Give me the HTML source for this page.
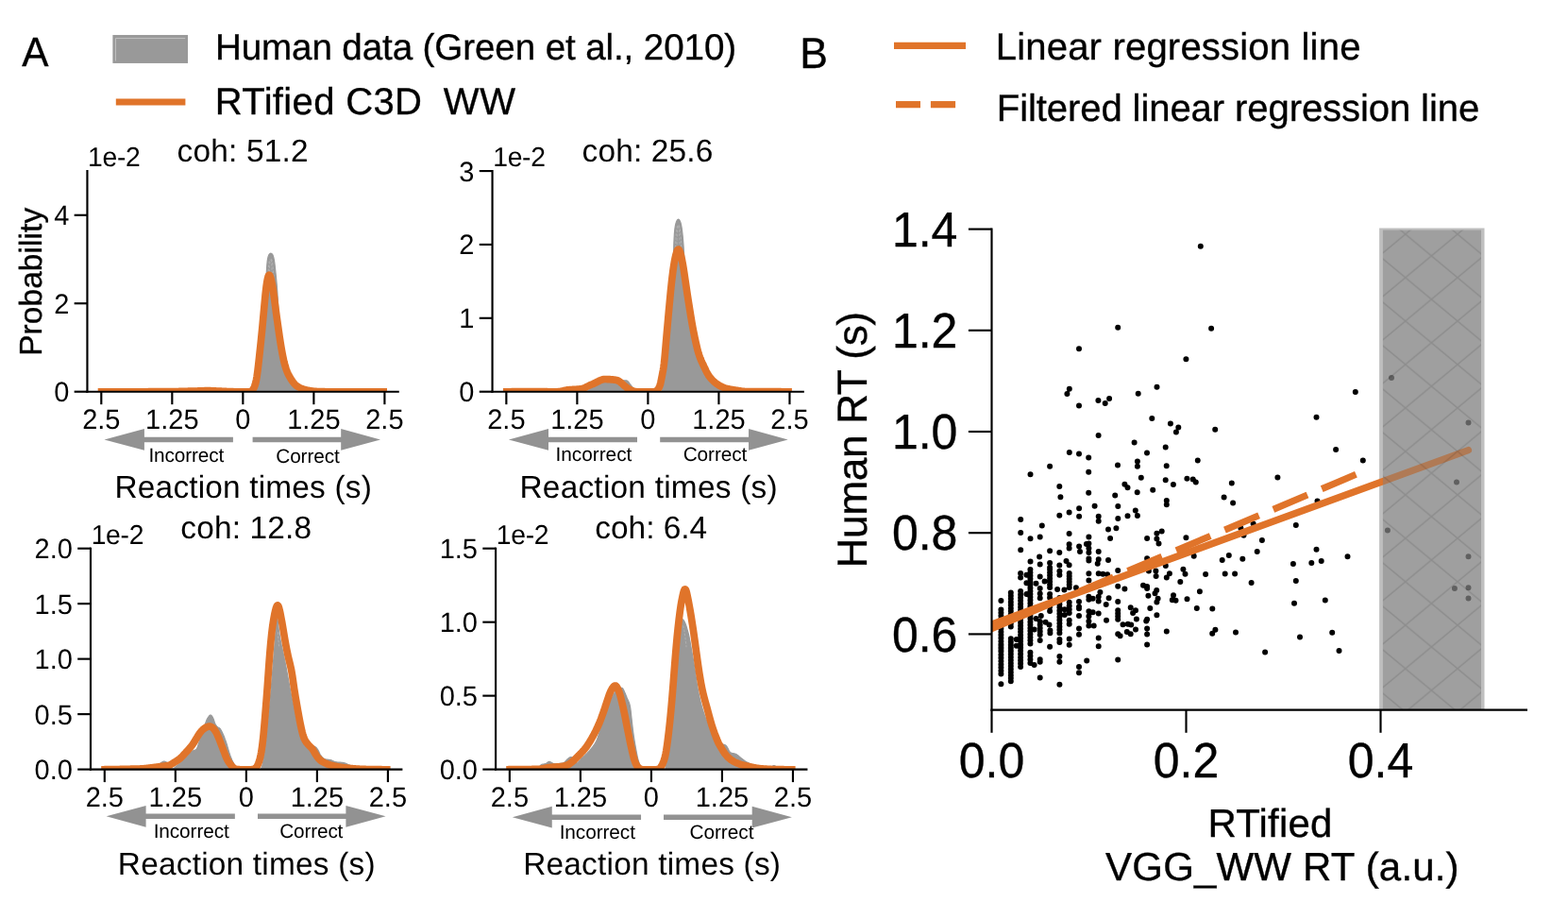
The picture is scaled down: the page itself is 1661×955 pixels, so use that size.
<!DOCTYPE html>
<html lang="en"><head><meta charset="utf-8"><title>Figure</title><style>html,body{margin:0;padding:0;background:#fff;overflow:hidden}svg{display:block}</style></head><body>
<svg width="1661" height="955" viewBox="0 0 1661 955" font-family='"Liberation Sans", Arial, Helvetica, sans-serif' fill="#000" stroke="#000" stroke-width="0.35" style="text-rendering:geometricPrecision">
<rect width="1661" height="955" fill="#fff" stroke="none"/>
<g stroke="none">
<rect x="119.4" y="37.05" width="79.6" height="29.9" fill="#999999"/>
<path d="M122.4,64.5 L122.4,40.6 L196.2,40.6" fill="none" stroke="#c6c6c6" stroke-width="0.9"/>
<line x1="122.80" y1="108.00" x2="196.40" y2="108.00" stroke="#E0742A" stroke-width="7.2" />
<line x1="947.00" y1="48.35" x2="1023.00" y2="48.35" stroke="#E0742A" stroke-width="7.1" />
<line x1="949.00" y1="110.65" x2="975.00" y2="110.65" stroke="#E0742A" stroke-width="7.2" />
<line x1="985.90" y1="110.65" x2="1012.10" y2="110.65" stroke="#E0742A" stroke-width="7.2" />
</g>
<text transform="translate(23.17,70.00) scale(1,1.03)" font-size="42.3" textLength="28.02" lengthAdjust="spacing">A</text>
<text transform="translate(847.35,72.00) scale(1,1.03)" font-size="44.5" textLength="30.50" lengthAdjust="spacing">B</text>
<text x="227.93" y="63.00" font-size="38.6" textLength="552.16" lengthAdjust="spacing">Human data (Green et al., 2010)</text>
<text x="227.82" y="121.00" font-size="40.0" textLength="219.10" lengthAdjust="spacing">RTified C3D</text>
<text x="469.82" y="121.00" font-size="40.0" textLength="76.31" lengthAdjust="spacing">WW</text>
<text x="1054.71" y="63.00" font-size="40.1" textLength="386.73" lengthAdjust="spacing">Linear regression line</text>
<text x="1055.81" y="128.00" font-size="40.1" textLength="511.37" lengthAdjust="spacing">Filtered linear regression line</text>
<g>
<g stroke="none">
<clipPath id="clip1"><rect x="92.45" y="161.05" width="330.35" height="253.65"/></clipPath>
<g clip-path="url(#clip1)">
<path d="M271.7,413.4 L272.2,411.5 L272.7,408.8 L273.2,405.7 L273.7,402.4 L274.2,398.7 L274.7,394.8 L275.2,390.7 L275.7,386.4 L276.2,382.0 L276.7,377.6 L277.2,373.1 L277.7,368.6 L278.2,364.2 L278.7,360.0 L279.2,354.9 L279.7,346.5 L280.2,332.4 L280.7,316.3 L281.2,305.2 L281.7,298.2 L282.2,290.0 L282.7,281.7 L283.2,276.3 L283.7,273.3 L284.2,271.4 L284.7,270.1 L285.2,269.3 L285.7,268.7 L286.2,268.4 L286.7,268.2 L287.2,268.3 L287.7,268.5 L288.2,268.9 L288.7,269.6 L289.2,270.6 L289.7,272.1 L290.2,274.3 L290.7,277.4 L291.2,281.4 L291.7,286.0 L292.2,290.9 L292.7,295.9 L293.2,301.3 L293.7,307.9 L294.2,315.9 L294.7,324.5 L295.2,332.7 L295.7,339.9 L296.2,346.3 L296.7,352.2 L297.2,357.7 L297.7,362.9 L298.2,367.7 L298.7,372.2 L299.2,376.3 L299.7,379.9 L300.2,382.9 L300.7,385.6 L301.2,387.9 L301.7,390.0 L302.2,392.0 L302.7,393.7 L303.2,395.3 L303.7,396.8 L304.2,398.2 L304.7,399.5 L305.2,400.7 L305.7,401.8 L306.2,402.8 L306.7,403.8 L307.2,404.7 L307.7,405.5 L308.2,406.3 L308.7,407.0 L309.2,407.6 L309.7,408.3 L310.2,408.9 L310.7,409.5 L311.2,410.1 L311.7,410.7 L312.2,411.2 L312.7,411.8 L313.2,412.3 L313.7,412.7 L314.2,413.1 L314.7,413.5 L315.2,413.8 L315.7,414.1 L316.2,414.3 L316.7,414.5 L317.2,414.6 L317.2,414.7 L271.7,414.7 Z" fill="#999999" stroke="#999999" stroke-width="1.2" stroke-linejoin="round"/>
<path d="M232.0,414.6 L232.5,414.4 L233.0,414.2 L233.5,414.0 L234.0,413.8 L234.5,413.6 L235.0,413.4 L235.5,413.3 L236.0,413.2 L236.5,413.1 L237.0,413.1 L237.5,413.0 L238.0,413.0 L238.5,413.0 L239.0,412.9 L239.5,412.9 L240.0,412.9 L240.5,413.0 L241.0,413.1 L241.5,413.3 L242.0,413.5 L242.5,413.7 L243.0,414.0 L243.5,414.3 L244.0,414.5 L244.0,414.7 L232.0,414.7 Z" fill="#999999" stroke="#999999" stroke-width="1.2" stroke-linejoin="round"/>
<path d="M285.2,296.5 L285.4,288.3 L285.5,282.9 L285.7,279.9 L285.9,277.9 L286.0,276.6 L286.2,275.8 L286.3,275.2" fill="none" stroke="#cccccc" stroke-width="0.45" stroke-dasharray="2.6,1.6"/>
<path d="M287.0,275.0 L287.1,275.5 L287.3,276.1 L287.5,277.1 L287.6,278.6 L287.8,280.8 L287.9,283.9 L288.1,287.9 L288.3,292.5 L288.4,297.4" fill="none" stroke="#cccccc" stroke-width="0.45" stroke-dasharray="2.6,1.6"/>
<path d="M283.9,295.6 L284.2,287.4 L284.5,282.0 L284.8,279.0 L285.1,277.0 L285.4,275.7 L285.7,274.9 L286.0,274.3" fill="none" stroke="#cccccc" stroke-width="0.45" stroke-dasharray="2.6,1.6"/>
<path d="M287.3,274.1 L287.6,274.6 L287.9,275.2 L288.2,276.2 L288.5,277.7 L288.8,279.9 L289.1,283.0 L289.4,287.0 L289.8,291.6 L290.1,296.5" fill="none" stroke="#cccccc" stroke-width="0.45" stroke-dasharray="2.6,1.6"/>
<path d="M103.7,414.9 L104.2,414.9 L104.7,414.9 L105.2,414.9 L105.7,414.9 L106.2,414.9 L106.7,414.9 L107.2,414.9 L107.7,414.9 L108.2,414.9 L108.7,414.9 L109.2,414.9 L109.7,414.9 L110.2,414.9 L110.7,414.9 L111.2,414.9 L111.7,414.9 L112.2,414.9 L112.7,414.9 L113.2,414.9 L113.7,414.9 L114.2,414.9 L114.7,414.9 L115.2,414.9 L115.7,414.9 L116.2,414.9 L116.7,414.9 L117.2,414.9 L117.7,414.9 L118.2,414.9 L118.7,414.9 L119.2,414.9 L119.7,414.9 L120.2,414.9 L120.7,414.9 L121.2,414.9 L121.7,414.9 L122.2,414.9 L122.7,414.9 L123.2,414.9 L123.7,414.9 L124.2,414.9 L124.7,414.9 L125.2,414.9 L125.7,414.9 L126.2,414.9 L126.7,414.9 L127.2,414.9 L127.7,414.9 L128.2,414.9 L128.7,414.9 L129.2,414.9 L129.7,414.9 L130.2,414.9 L130.7,414.9 L131.2,414.9 L131.7,414.9 L132.2,414.9 L132.7,414.9 L133.2,414.9 L133.7,414.9 L134.2,414.8 L134.7,414.8 L135.2,414.8 L135.7,414.8 L136.2,414.8 L136.7,414.8 L137.2,414.8 L137.7,414.8 L138.2,414.8 L138.7,414.8 L139.2,414.8 L139.7,414.8 L140.2,414.8 L140.7,414.8 L141.2,414.8 L141.7,414.8 L142.2,414.8 L142.7,414.8 L143.2,414.8 L143.7,414.8 L144.2,414.8 L144.7,414.8 L145.2,414.8 L145.7,414.8 L146.2,414.8 L146.7,414.8 L147.2,414.8 L147.7,414.8 L148.2,414.8 L148.7,414.8 L149.2,414.8 L149.7,414.8 L150.2,414.8 L150.7,414.8 L151.2,414.8 L151.7,414.8 L152.2,414.8 L152.7,414.8 L153.2,414.8 L153.7,414.8 L154.2,414.8 L154.7,414.8 L155.2,414.8 L155.7,414.8 L156.2,414.8 L156.7,414.8 L157.2,414.7 L157.7,414.7 L158.2,414.7 L158.7,414.7 L159.2,414.7 L159.7,414.7 L160.2,414.7 L160.7,414.7 L161.2,414.7 L161.7,414.7 L162.2,414.7 L162.7,414.7 L163.2,414.7 L163.7,414.7 L164.2,414.7 L164.7,414.7 L165.2,414.7 L165.7,414.7 L166.2,414.7 L166.7,414.7 L167.2,414.7 L167.7,414.7 L168.2,414.7 L168.7,414.7 L169.2,414.7 L169.7,414.7 L170.2,414.7 L170.7,414.7 L171.2,414.7 L171.7,414.7 L172.2,414.7 L172.7,414.7 L173.2,414.6 L173.7,414.6 L174.2,414.6 L174.7,414.6 L175.2,414.6 L175.7,414.6 L176.2,414.6 L176.7,414.6 L177.2,414.6 L177.7,414.6 L178.2,414.6 L178.7,414.6 L179.2,414.6 L179.7,414.6 L180.2,414.6 L180.7,414.6 L181.2,414.6 L181.7,414.6 L182.2,414.6 L182.7,414.6 L183.2,414.6 L183.7,414.6 L184.2,414.6 L184.7,414.5 L185.2,414.5 L185.7,414.5 L186.2,414.5 L186.7,414.5 L187.2,414.5 L187.7,414.5 L188.2,414.5 L188.7,414.5 L189.2,414.5 L189.7,414.5 L190.2,414.4 L190.7,414.4 L191.2,414.4 L191.7,414.4 L192.2,414.4 L192.7,414.4 L193.2,414.4 L193.7,414.4 L194.2,414.4 L194.7,414.3 L195.2,414.3 L195.7,414.3 L196.2,414.3 L196.7,414.3 L197.2,414.3 L197.7,414.3 L198.2,414.3 L198.7,414.3 L199.2,414.2 L199.7,414.2 L200.2,414.2 L200.7,414.2 L201.2,414.2 L201.7,414.2 L202.2,414.2 L202.7,414.2 L203.2,414.1 L203.7,414.1 L204.2,414.1 L204.7,414.1 L205.2,414.1 L205.7,414.1 L206.2,414.1 L206.7,414.1 L207.2,414.0 L207.7,414.0 L208.2,414.0 L208.7,414.0 L209.2,414.0 L209.7,414.0 L210.2,413.9 L210.7,413.9 L211.2,413.9 L211.7,413.9 L212.2,413.9 L212.7,413.9 L213.2,413.8 L213.7,413.8 L214.2,413.8 L214.7,413.8 L215.2,413.8 L215.7,413.8 L216.2,413.8 L216.7,413.7 L217.2,413.7 L217.7,413.7 L218.2,413.7 L218.7,413.7 L219.2,413.7 L219.7,413.7 L220.2,413.7 L220.7,413.7 L221.2,413.7 L221.7,413.7 L222.2,413.7 L222.7,413.7 L223.2,413.7 L223.7,413.8 L224.2,413.8 L224.7,413.8 L225.2,413.8 L225.7,413.8 L226.2,413.8 L226.7,413.9 L227.2,413.9 L227.7,413.9 L228.2,413.9 L228.7,414.0 L229.2,414.0 L229.7,414.0 L230.2,414.0 L230.7,414.1 L231.2,414.1 L231.7,414.1 L232.2,414.1 L232.7,414.2 L233.2,414.2 L233.7,414.2 L234.2,414.2 L234.7,414.2 L235.2,414.3 L235.7,414.3 L236.2,414.3 L236.7,414.3 L237.2,414.3 L237.7,414.4 L238.2,414.4 L238.7,414.4 L239.2,414.4 L239.7,414.5 L240.2,414.5 L240.7,414.5 L241.2,414.5 L241.7,414.5 L242.2,414.6 L242.7,414.6 L243.2,414.6 L243.7,414.6 L244.2,414.6 L244.7,414.7 L245.2,414.7 L245.7,414.7 L246.2,414.7 L246.7,414.7 L247.2,414.7 L247.7,414.8 L248.2,414.8 L248.7,414.8 L249.2,414.8 L249.7,414.8 L250.2,414.8 L250.7,414.8 L251.2,414.8 L251.7,414.8 L252.2,414.8 L252.7,414.8 L253.2,414.8 L253.7,414.8 L254.2,414.8 L254.7,414.8 L255.2,414.8 L255.7,414.8 L256.1,414.8 L256.6,414.8 L257.1,414.8 L257.6,414.8 L258.1,414.8 L258.6,414.8 L259.1,414.8 L259.6,414.9 L260.1,414.9 L260.6,414.9 L261.1,414.9 L261.6,414.9 L262.1,414.9 L262.6,414.9 L263.1,414.8 L263.6,414.8 L264.1,414.8 L264.6,414.7 L265.1,414.6 L265.6,414.4 L266.1,414.2 L266.6,413.8 L267.1,413.4 L267.6,412.9 L268.1,412.2 L268.6,411.4 L269.1,410.4 L269.6,409.3 L270.1,407.9 L270.6,406.2 L271.1,404.2 L271.6,401.7 L272.1,398.8 L272.6,395.3 L273.1,391.4 L273.6,387.1 L274.1,382.6 L274.6,378.1 L275.1,373.5 L275.6,368.8 L276.1,364.1 L276.6,359.3 L277.1,354.3 L277.6,349.3 L278.1,344.0 L278.6,338.7 L279.1,333.2 L279.6,327.8 L280.1,322.3 L280.6,317.0 L281.1,312.0 L281.6,307.4 L282.1,303.3 L282.6,299.7 L283.1,296.8 L283.6,294.5 L284.1,292.7 L284.6,291.6 L285.1,291.2 L285.6,291.4 L286.1,292.3 L286.6,293.8 L287.1,295.6 L287.6,297.8 L288.1,300.3 L288.6,302.9 L289.1,305.9 L289.6,309.1 L290.1,312.6 L290.6,316.4 L291.1,320.2 L291.6,324.1 L292.1,327.8 L292.6,331.5 L293.1,335.2 L293.6,338.8 L294.1,342.3 L294.6,345.9 L295.1,349.4 L295.6,352.9 L296.1,356.3 L296.6,359.6 L297.1,362.8 L297.6,365.9 L298.1,368.9 L298.6,371.7 L299.1,374.5 L299.6,377.0 L300.1,379.4 L300.6,381.7 L301.1,383.8 L301.6,385.7 L302.1,387.5 L302.6,389.1 L303.1,390.7 L303.6,392.1 L304.1,393.4 L304.6,394.6 L305.1,395.7 L305.6,396.7 L306.1,397.7 L306.6,398.6 L307.1,399.5 L307.6,400.3 L308.1,401.1 L308.6,401.9 L309.1,402.6 L309.6,403.4 L310.1,404.1 L310.6,404.8 L311.1,405.4 L311.6,406.0 L312.1,406.6 L312.6,407.1 L313.1,407.6 L313.6,408.1 L314.1,408.5 L314.6,408.8 L315.1,409.1 L315.6,409.5 L316.1,409.7 L316.6,410.0 L317.1,410.3 L317.6,410.5 L318.1,410.8 L318.6,411.0 L319.1,411.2 L319.6,411.4 L320.1,411.6 L320.6,411.8 L321.1,412.0 L321.6,412.2 L322.1,412.3 L322.6,412.5 L323.1,412.6 L323.6,412.7 L324.1,412.8 L324.6,413.0 L325.1,413.1 L325.6,413.2 L326.1,413.3 L326.6,413.4 L327.1,413.5 L327.6,413.6 L328.1,413.7 L328.6,413.7 L329.1,413.8 L329.6,413.9 L330.1,414.0 L330.6,414.1 L331.1,414.1 L331.6,414.2 L332.1,414.2 L332.6,414.3 L333.1,414.3 L333.6,414.4 L334.1,414.4 L334.6,414.4 L335.1,414.5 L335.6,414.5 L336.1,414.5 L336.6,414.5 L337.1,414.6 L337.6,414.6 L338.1,414.6 L338.6,414.6 L339.1,414.6 L339.6,414.6 L340.1,414.7 L340.6,414.7 L341.1,414.7 L341.6,414.7 L342.1,414.7 L342.6,414.7 L343.1,414.7 L343.6,414.7 L344.1,414.7 L344.6,414.8 L345.1,414.8 L345.6,414.8 L346.1,414.8 L346.6,414.8 L347.1,414.8 L347.6,414.8 L348.1,414.8 L348.6,414.8 L349.1,414.8 L349.6,414.8 L350.1,414.8 L350.6,414.8 L351.1,414.8 L351.6,414.8 L352.1,414.8 L352.6,414.8 L353.1,414.8 L353.6,414.8 L354.1,414.8 L354.6,414.8 L355.1,414.8 L355.6,414.8 L356.1,414.8 L356.6,414.9 L357.1,414.9 L357.6,414.9 L358.1,414.9 L358.6,414.9 L359.1,414.9 L359.6,414.9 L360.1,414.9 L360.6,414.9 L361.1,414.9 L361.6,414.9 L362.1,414.9 L362.6,414.9 L363.1,414.9 L363.6,414.9 L364.1,414.9 L364.6,414.9 L365.1,414.9 L365.6,414.9 L366.1,414.9 L366.6,414.9 L367.1,414.9 L367.6,414.9 L368.1,414.9 L368.6,414.9 L369.1,414.9 L369.6,414.9 L370.1,414.9 L370.6,414.9 L371.1,414.9 L371.6,414.9 L372.1,414.9 L372.6,414.9 L373.1,414.9 L373.6,414.9 L374.1,414.9 L374.6,414.9 L375.1,414.9 L375.6,414.9 L376.1,414.9 L376.6,414.9 L377.1,414.9 L377.6,414.9 L378.1,414.9 L378.6,414.9 L379.1,414.9 L379.6,414.9 L380.1,414.9 L380.6,414.9 L381.1,414.9 L381.6,414.9 L382.1,414.9 L382.6,414.9 L383.1,414.9 L383.6,414.9 L384.1,414.9 L384.6,414.9 L385.1,414.9 L385.6,414.9 L386.1,414.9 L386.6,414.9 L387.1,414.9 L387.6,414.9 L388.1,414.9 L388.6,414.9 L389.1,414.9 L389.6,414.9 L390.1,414.9 L390.6,414.9 L391.1,414.9 L391.6,414.9 L392.1,414.9 L392.6,414.9 L393.1,414.9 L393.6,414.9 L394.1,414.9 L394.6,414.9 L395.1,414.9 L395.6,414.9 L396.1,414.9 L396.6,414.9 L397.1,414.9 L397.6,414.9 L398.1,414.9 L398.6,414.9 L399.1,414.9 L399.6,414.9 L400.1,414.9 L400.6,414.9 L401.1,414.9 L401.6,414.9 L402.1,414.9 L402.6,414.9 L403.1,414.9 L403.6,414.9 L404.1,414.9 L404.6,414.9 L405.1,414.9 L405.6,414.9 L406.1,414.9 L406.6,414.9 L407.1,414.9 L407.6,414.9 L408.1,414.9 L408.6,414.9 L409.1,414.9 L409.6,414.9 L410.0,414.9" fill="none" stroke="#E0742A" stroke-width="7.7" stroke-linejoin="round" stroke-linecap="butt"/>
</g>
<line x1="92.45" y1="179.98" x2="92.45" y2="415.77" stroke="#000" stroke-width="2.15" />
<line x1="91.38" y1="414.70" x2="422.80" y2="414.70" stroke="#000" stroke-width="2.15" />
<line x1="107.30" y1="414.70" x2="107.30" y2="428.20" stroke="#000" stroke-width="2.15" />
<text transform="translate(107.30,454.00) scale(1,1.02)" font-size="29.0" text-anchor="middle" >2.5</text>
<line x1="182.33" y1="414.70" x2="182.33" y2="428.20" stroke="#000" stroke-width="2.15" />
<text transform="translate(182.33,454.00) scale(1,1.02)" font-size="29.0" text-anchor="middle" >1.25</text>
<line x1="257.35" y1="414.70" x2="257.35" y2="428.20" stroke="#000" stroke-width="2.15" />
<text transform="translate(257.35,454.00) scale(1,1.02)" font-size="29.0" text-anchor="middle" >0</text>
<line x1="332.38" y1="414.70" x2="332.38" y2="428.20" stroke="#000" stroke-width="2.15" />
<text transform="translate(332.38,454.00) scale(1,1.02)" font-size="29.0" text-anchor="middle" >1.25</text>
<line x1="407.40" y1="414.70" x2="407.40" y2="428.20" stroke="#000" stroke-width="2.15" />
<text transform="translate(407.40,454.00) scale(1,1.02)" font-size="29.0" text-anchor="middle" >2.5</text>
<line x1="78.65" y1="414.70" x2="92.45" y2="414.70" stroke="#000" stroke-width="2.15" />
<text transform="translate(73.35,425.00) scale(1,1.02)" font-size="29.0" text-anchor="end" >0</text>
<line x1="78.65" y1="321.24" x2="92.45" y2="321.24" stroke="#000" stroke-width="2.15" />
<text transform="translate(73.35,332.00) scale(1,1.02)" font-size="29.0" text-anchor="end" >2</text>
<line x1="78.65" y1="227.78" x2="92.45" y2="227.78" stroke="#000" stroke-width="2.15" />
<text transform="translate(73.35,238.00) scale(1,1.02)" font-size="29.0" text-anchor="end" >4</text>
<text transform="translate(93.09,176.00) scale(1,1.02)" font-size="28.3" textLength="55.78" lengthAdjust="spacing">1e-2</text>
<text x="187.58" y="171.00" font-size="33.4" textLength="139.00" lengthAdjust="spacing">coh: 51.2</text>
<path d="M246.90,462.70 L152.90,462.70 L152.90,454.10 L110.50,465.45 L152.90,476.80 L152.90,468.20 L246.90,468.20 Z" fill="#929292"/>
<path d="M267.60,462.70 L361.20,462.70 L361.20,454.10 L403.00,465.45 L361.20,476.80 L361.20,468.20 L267.60,468.20 Z" fill="#929292"/>
<text x="157.38" y="489.00" font-size="20.8" textLength="79.87" lengthAdjust="spacing">Incorrect</text>
<text x="292.24" y="490.00" font-size="20.8" textLength="67.51" lengthAdjust="spacing">Correct</text>
<text x="121.56" y="527.00" font-size="33.4" textLength="272.21" lengthAdjust="spacing">Reaction times (s)</text>
</g>
<g stroke="none">
<clipPath id="clip2"><rect x="521.55" y="161.05" width="330.30" height="253.65"/></clipPath>
<g clip-path="url(#clip2)">
<path d="M701.4,413.6 L701.9,411.5 L702.4,408.5 L702.9,405.1 L703.4,401.6 L703.9,398.1 L704.4,394.4 L704.9,390.7 L705.4,386.9 L705.9,383.0 L706.4,378.9 L706.9,374.7 L707.4,370.3 L707.9,365.8 L708.4,361.2 L708.9,356.4 L709.4,351.6 L709.9,346.7 L710.4,341.8 L710.9,337.0 L711.4,332.5 L711.9,326.9 L712.4,315.9 L712.9,296.5 L713.4,273.8 L713.9,256.6 L714.4,247.0 L714.9,242.0 L715.4,238.9 L715.9,236.7 L716.4,235.1 L716.9,233.9 L717.4,233.1 L717.9,232.5 L718.4,232.2 L718.9,232.3 L719.4,232.6 L719.9,233.3 L720.4,234.3 L720.9,235.5 L721.4,237.3 L721.9,239.8 L722.4,243.1 L722.9,247.2 L723.4,252.2 L723.9,258.3 L724.4,265.9 L724.9,275.1 L725.4,285.1 L725.9,294.0 L726.4,300.6 L726.9,305.6 L727.4,309.7 L727.9,313.5 L728.4,317.2 L728.9,320.7 L729.4,324.2 L729.9,327.4 L730.4,330.6 L730.9,333.7 L731.4,336.7 L731.9,339.7 L732.4,342.6 L732.9,345.5 L733.4,348.3 L733.9,351.0 L734.4,353.5 L734.9,356.0 L735.4,358.4 L735.9,360.8 L736.4,363.1 L736.9,365.4 L737.4,367.5 L737.9,369.6 L738.4,371.6 L738.9,373.5 L739.4,375.3 L739.9,376.9 L740.4,378.4 L740.9,379.9 L741.4,381.3 L741.9,382.6 L742.4,383.9 L742.9,385.2 L743.4,386.4 L743.9,387.6 L744.4,388.7 L744.9,389.7 L745.4,390.7 L745.9,391.7 L746.4,392.6 L746.9,393.5 L747.4,394.4 L747.9,395.2 L748.4,396.0 L748.9,396.8 L749.4,397.5 L749.9,398.2 L750.4,398.9 L750.9,399.6 L751.4,400.2 L751.9,400.9 L752.4,401.5 L752.9,402.1 L753.4,402.7 L753.9,403.2 L754.4,403.8 L754.9,404.3 L755.4,404.9 L755.9,405.4 L756.4,405.9 L756.9,406.4 L757.4,406.9 L757.9,407.4 L758.4,407.9 L758.9,408.4 L759.4,408.9 L759.9,409.4 L760.4,409.8 L760.9,410.3 L761.4,410.7 L761.9,411.2 L762.4,411.6 L762.9,412.0 L763.4,412.4 L763.9,412.8 L764.4,413.2 L764.9,413.5 L765.4,413.9 L765.9,414.2 L766.4,414.6 L766.9,414.7 L767.4,414.7 L767.4,414.7 L701.4,414.7 Z" fill="#999999" stroke="#999999" stroke-width="1.2" stroke-linejoin="round"/>
<path d="M621.8,414.4 L622.3,414.1 L622.8,413.7 L623.3,413.3 L623.8,412.8 L624.3,412.4 L624.8,412.0 L625.3,411.5 L625.8,411.1 L626.3,410.7 L626.8,410.3 L627.3,409.9 L627.8,409.5 L628.3,409.2 L628.8,408.8 L629.3,408.4 L629.8,408.1 L630.3,407.7 L630.8,407.4 L631.3,407.1 L631.8,406.7 L632.3,406.4 L632.8,406.1 L633.3,405.8 L633.8,405.5 L634.3,405.2 L634.8,404.9 L635.3,404.6 L635.8,404.4 L636.3,404.2 L636.8,403.9 L637.3,403.7 L637.8,403.5 L638.3,403.3 L638.8,403.1 L639.3,403.0 L639.8,402.9 L640.3,402.8 L640.8,402.8 L641.3,402.8 L641.8,402.8 L642.3,402.8 L642.8,402.9 L643.3,402.9 L643.8,402.9 L644.3,402.9 L644.8,402.9 L645.3,403.0 L645.8,403.0 L646.3,403.0 L646.8,403.0 L647.3,403.1 L647.8,403.1 L648.3,403.2 L648.8,403.2 L649.3,403.3 L649.8,403.4 L650.3,403.5 L650.8,403.7 L651.3,403.8 L651.8,403.9 L652.3,404.0 L652.8,404.1 L653.3,404.1 L653.8,404.1 L654.3,404.1 L654.8,404.0 L655.3,403.9 L655.8,403.8 L656.3,403.7 L656.8,403.6 L657.3,403.5 L657.8,403.4 L658.3,403.3 L658.8,403.2 L659.3,403.1 L659.8,403.0 L660.3,402.9 L660.8,402.9 L661.3,402.8 L661.8,402.8 L662.3,402.8 L662.8,402.8 L663.3,402.8 L663.8,402.9 L664.3,403.1 L664.8,403.5 L665.3,404.0 L665.8,404.5 L666.3,405.1 L666.8,405.8 L667.3,406.5 L667.8,407.2 L668.3,407.8 L668.8,408.4 L669.3,409.1 L669.8,409.7 L670.3,410.3 L670.8,411.0 L671.3,411.7 L671.8,412.3 L672.3,412.9 L672.8,413.3 L673.3,413.7 L673.8,414.0 L674.3,414.3 L674.8,414.5 L675.3,414.6 L675.3,414.7 L621.8,414.7 Z" fill="#999999" stroke="#999999" stroke-width="1.2" stroke-linejoin="round"/>
<path d="M717.0,263.1 L717.1,253.5 L717.3,248.5 L717.5,245.5 L717.6,243.3 L717.8,241.6 L717.9,240.5 L718.1,239.6" fill="none" stroke="#cccccc" stroke-width="0.45" stroke-dasharray="2.6,1.6"/>
<path d="M718.7,239.2 L718.9,239.9 L719.1,240.8 L719.2,242.1 L719.4,243.9 L719.5,246.4 L719.7,249.6 L719.9,253.7 L720.0,258.7" fill="none" stroke="#cccccc" stroke-width="0.45" stroke-dasharray="2.6,1.6"/>
<path d="M715.6,262.2 L715.9,252.6 L716.2,247.6 L716.6,244.6 L716.9,242.4 L717.2,240.7 L717.5,239.6 L717.8,238.7" fill="none" stroke="#cccccc" stroke-width="0.45" stroke-dasharray="2.6,1.6"/>
<path d="M719.0,238.3 L719.3,239.0 L719.7,239.9 L720.0,241.2 L720.3,243.0 L720.6,245.5 L720.9,248.7 L721.2,252.8 L721.5,257.8 L721.8,264.0" fill="none" stroke="#cccccc" stroke-width="0.45" stroke-dasharray="2.6,1.6"/>
<path d="M532.9,414.9 L533.4,414.9 L533.9,414.9 L534.4,414.9 L534.9,414.9 L535.4,414.9 L535.9,414.8 L536.4,414.8 L536.9,414.8 L537.4,414.8 L537.9,414.8 L538.4,414.8 L538.9,414.8 L539.4,414.8 L539.9,414.8 L540.4,414.8 L540.9,414.8 L541.4,414.8 L541.9,414.7 L542.4,414.7 L542.9,414.7 L543.4,414.7 L543.9,414.7 L544.4,414.7 L544.9,414.7 L545.4,414.7 L545.9,414.7 L546.4,414.7 L546.9,414.7 L547.4,414.7 L547.9,414.7 L548.4,414.7 L548.9,414.7 L549.4,414.7 L549.9,414.6 L550.4,414.6 L550.9,414.6 L551.4,414.6 L551.9,414.6 L552.4,414.6 L552.9,414.6 L553.4,414.6 L553.9,414.6 L554.4,414.6 L554.9,414.6 L555.4,414.6 L555.9,414.6 L556.4,414.6 L556.9,414.6 L557.4,414.6 L557.9,414.6 L558.4,414.6 L558.9,414.6 L559.4,414.6 L559.9,414.6 L560.4,414.6 L560.9,414.6 L561.4,414.6 L561.9,414.6 L562.4,414.6 L562.9,414.6 L563.4,414.6 L563.9,414.6 L564.4,414.6 L564.9,414.6 L565.4,414.6 L565.9,414.6 L566.4,414.6 L566.9,414.6 L567.4,414.6 L567.9,414.6 L568.4,414.6 L568.9,414.6 L569.4,414.6 L569.9,414.7 L570.4,414.7 L570.9,414.7 L571.4,414.7 L571.9,414.7 L572.4,414.7 L572.9,414.7 L573.4,414.7 L573.9,414.7 L574.4,414.7 L574.9,414.7 L575.4,414.7 L575.9,414.7 L576.4,414.7 L576.9,414.7 L577.4,414.7 L577.9,414.7 L578.4,414.7 L578.9,414.7 L579.4,414.7 L579.9,414.7 L580.4,414.8 L580.9,414.8 L581.4,414.8 L581.9,414.8 L582.4,414.8 L582.9,414.8 L583.4,414.8 L583.9,414.8 L584.4,414.8 L584.9,414.8 L585.4,414.8 L585.9,414.8 L586.4,414.8 L586.9,414.8 L587.4,414.8 L587.9,414.8 L588.4,414.8 L588.9,414.8 L589.4,414.8 L589.9,414.8 L590.4,414.8 L590.9,414.7 L591.4,414.7 L591.9,414.7 L592.4,414.6 L592.9,414.5 L593.4,414.5 L593.9,414.4 L594.4,414.3 L594.9,414.2 L595.4,414.1 L595.9,414.0 L596.4,413.9 L596.9,413.7 L597.4,413.6 L597.9,413.5 L598.4,413.4 L598.9,413.3 L599.4,413.2 L599.9,413.1 L600.4,413.0 L600.9,412.9 L601.4,412.9 L601.9,412.8 L602.4,412.8 L602.9,412.7 L603.4,412.7 L603.9,412.6 L604.4,412.6 L604.9,412.6 L605.4,412.5 L605.9,412.5 L606.4,412.5 L606.9,412.4 L607.4,412.4 L607.9,412.4 L608.4,412.4 L608.9,412.3 L609.4,412.3 L609.9,412.3 L610.4,412.3 L610.9,412.2 L611.4,412.2 L611.9,412.2 L612.4,412.1 L612.9,412.1 L613.4,412.0 L613.9,412.0 L614.4,411.9 L614.9,411.9 L615.4,411.8 L615.9,411.8 L616.4,411.7 L616.9,411.6 L617.4,411.4 L617.9,411.3 L618.4,411.1 L618.9,410.8 L619.4,410.6 L619.9,410.3 L620.4,410.1 L620.9,409.8 L621.4,409.5 L621.9,409.2 L622.4,409.0 L622.9,408.7 L623.4,408.5 L623.9,408.3 L624.4,408.0 L624.9,407.8 L625.4,407.6 L625.9,407.4 L626.4,407.2 L626.9,407.0 L627.4,406.8 L627.9,406.6 L628.4,406.4 L628.9,406.1 L629.4,405.9 L629.9,405.7 L630.4,405.4 L630.9,405.2 L631.4,404.9 L631.9,404.7 L632.4,404.4 L632.9,404.1 L633.4,403.9 L633.9,403.6 L634.4,403.4 L634.9,403.1 L635.4,402.9 L635.9,402.7 L636.4,402.5 L636.9,402.3 L637.4,402.2 L637.9,402.0 L638.4,401.8 L638.9,401.7 L639.4,401.6 L639.9,401.5 L640.4,401.5 L640.9,401.5 L641.4,401.5 L641.9,401.5 L642.4,401.5 L642.9,401.5 L643.4,401.6 L643.9,401.6 L644.4,401.6 L644.9,401.6 L645.4,401.7 L645.9,401.7 L646.4,401.7 L646.9,401.8 L647.4,401.8 L647.9,401.8 L648.4,401.9 L648.9,401.9 L649.4,402.0 L649.9,402.0 L650.4,402.1 L650.9,402.1 L651.4,402.2 L651.9,402.3 L652.4,402.4 L652.9,402.5 L653.4,402.6 L653.9,402.8 L654.4,402.9 L654.9,403.2 L655.4,403.4 L655.9,403.7 L656.4,404.0 L656.9,404.4 L657.4,404.8 L657.9,405.2 L658.4,405.7 L658.9,406.1 L659.4,406.6 L659.9,407.1 L660.4,407.5 L660.9,408.0 L661.4,408.4 L661.9,408.8 L662.4,409.2 L662.9,409.6 L663.4,410.0 L663.9,410.4 L664.4,410.8 L664.9,411.1 L665.4,411.4 L665.9,411.8 L666.4,412.0 L666.9,412.3 L667.4,412.6 L667.9,412.9 L668.4,413.1 L668.9,413.3 L669.4,413.6 L669.9,413.8 L670.4,413.9 L670.9,414.1 L671.4,414.2 L671.9,414.4 L672.4,414.5 L672.9,414.6 L673.4,414.6 L673.9,414.7 L674.4,414.8 L674.9,414.8 L675.4,414.9 L675.9,414.9 L676.4,414.9 L676.9,414.9 L677.4,414.9 L677.9,414.9 L678.4,414.9 L678.9,414.9 L679.4,414.9 L679.9,414.9 L680.4,414.9 L680.9,414.9 L681.4,414.9 L681.9,414.9 L682.4,414.9 L682.9,414.9 L683.4,414.9 L683.9,414.9 L684.4,414.9 L684.9,414.9 L685.4,414.9 L685.9,414.9 L686.4,414.9 L686.9,414.9 L687.4,414.9 L687.9,414.9 L688.4,414.9 L688.9,414.9 L689.4,414.9 L689.9,414.9 L690.4,414.9 L690.9,414.9 L691.4,414.9 L691.9,414.8 L692.4,414.8 L692.9,414.8 L693.4,414.7 L693.9,414.6 L694.4,414.4 L694.9,414.2 L695.4,413.9 L695.9,413.4 L696.4,412.9 L696.9,412.2 L697.4,411.6 L697.9,410.8 L698.4,409.9 L698.9,408.6 L699.4,407.0 L699.9,404.9 L700.4,402.5 L700.9,399.9 L701.4,397.4 L701.9,394.8 L702.4,392.1 L702.9,389.0 L703.4,385.2 L703.9,380.6 L704.4,375.3 L704.9,369.5 L705.4,363.6 L705.9,357.8 L706.4,352.1 L706.9,346.5 L707.4,341.0 L707.9,335.4 L708.4,329.9 L708.9,324.5 L709.4,319.1 L709.9,313.8 L710.4,308.7 L710.9,303.9 L711.4,299.2 L711.9,294.8 L712.4,290.7 L712.9,286.8 L713.4,283.3 L713.9,280.0 L714.4,277.1 L714.9,274.5 L715.4,272.1 L715.9,270.0 L716.4,268.2 L716.9,266.6 L717.4,265.3 L717.9,264.4 L718.4,264.0 L718.9,264.1 L719.4,264.6 L719.9,265.6 L720.4,267.0 L720.9,268.6 L721.4,270.5 L721.9,272.6 L722.4,274.9 L722.9,277.4 L723.4,280.2 L723.9,283.2 L724.4,286.3 L724.9,289.6 L725.4,293.0 L725.9,296.5 L726.4,299.9 L726.9,303.4 L727.4,306.7 L727.9,310.1 L728.4,313.3 L728.9,316.6 L729.4,319.8 L729.9,322.9 L730.4,326.1 L730.9,329.2 L731.4,332.3 L731.9,335.4 L732.4,338.4 L732.9,341.4 L733.4,344.2 L733.9,346.9 L734.4,349.6 L734.9,352.1 L735.4,354.6 L735.9,357.0 L736.4,359.4 L736.9,361.6 L737.4,363.9 L737.9,366.0 L738.4,368.1 L738.9,370.1 L739.4,372.0 L739.9,373.7 L740.4,375.4 L740.9,376.9 L741.4,378.3 L741.9,379.6 L742.4,380.8 L742.9,382.0 L743.4,383.1 L743.9,384.2 L744.4,385.2 L744.9,386.3 L745.4,387.3 L745.9,388.4 L746.4,389.4 L746.9,390.5 L747.4,391.5 L747.9,392.6 L748.4,393.6 L748.9,394.6 L749.4,395.5 L749.9,396.3 L750.4,397.1 L750.9,397.9 L751.4,398.6 L751.9,399.2 L752.4,399.9 L752.9,400.5 L753.4,401.0 L753.9,401.6 L754.4,402.1 L754.9,402.6 L755.4,403.1 L755.9,403.6 L756.4,404.1 L756.9,404.5 L757.4,404.9 L757.9,405.4 L758.4,405.7 L758.9,406.1 L759.4,406.5 L759.9,406.8 L760.4,407.1 L760.9,407.5 L761.4,407.8 L761.9,408.1 L762.4,408.4 L762.9,408.6 L763.4,408.9 L763.9,409.2 L764.4,409.4 L764.9,409.7 L765.4,409.9 L765.9,410.1 L766.4,410.3 L766.9,410.5 L767.4,410.7 L767.9,410.9 L768.4,411.0 L768.9,411.2 L769.4,411.3 L769.9,411.5 L770.4,411.6 L770.9,411.7 L771.4,411.8 L771.9,411.9 L772.4,412.0 L772.9,412.1 L773.4,412.2 L773.9,412.3 L774.4,412.4 L774.9,412.5 L775.4,412.6 L775.9,412.7 L776.4,412.7 L776.9,412.8 L777.4,412.9 L777.9,413.0 L778.4,413.1 L778.9,413.1 L779.4,413.2 L779.9,413.3 L780.4,413.4 L780.9,413.4 L781.4,413.5 L781.9,413.6 L782.4,413.7 L782.9,413.8 L783.4,413.8 L783.9,413.9 L784.4,414.0 L784.9,414.1 L785.4,414.2 L785.9,414.2 L786.4,414.3 L786.9,414.3 L787.4,414.4 L787.9,414.4 L788.4,414.5 L788.9,414.5 L789.4,414.5 L789.9,414.5 L790.4,414.5 L790.9,414.5 L791.4,414.6 L791.9,414.6 L792.4,414.6 L792.9,414.6 L793.4,414.6 L793.9,414.6 L794.4,414.6 L794.9,414.6 L795.4,414.6 L795.9,414.6 L796.4,414.6 L796.9,414.6 L797.4,414.6 L797.9,414.6 L798.4,414.6 L798.9,414.6 L799.4,414.6 L799.9,414.6 L800.4,414.6 L800.9,414.6 L801.4,414.6 L801.9,414.6 L802.4,414.6 L802.9,414.6 L803.4,414.6 L803.9,414.6 L804.4,414.6 L804.9,414.6 L805.4,414.6 L805.9,414.6 L806.4,414.6 L806.9,414.6 L807.4,414.6 L807.9,414.6 L808.4,414.6 L808.9,414.6 L809.4,414.6 L809.9,414.6 L810.4,414.6 L810.9,414.6 L811.4,414.6 L811.9,414.6 L812.4,414.6 L812.9,414.6 L813.4,414.6 L813.9,414.6 L814.4,414.6 L814.9,414.6 L815.4,414.6 L815.9,414.6 L816.4,414.6 L816.9,414.6 L817.4,414.6 L817.9,414.6 L818.4,414.7 L818.9,414.7 L819.4,414.7 L819.9,414.7 L820.4,414.7 L820.9,414.7 L821.4,414.7 L821.9,414.7 L822.4,414.7 L822.9,414.7 L823.4,414.7 L823.9,414.7 L824.4,414.7 L824.9,414.7 L825.4,414.7 L825.9,414.7 L826.4,414.7 L826.9,414.7 L827.4,414.7 L827.9,414.8 L828.4,414.8 L828.9,414.8 L829.4,414.8 L829.9,414.8 L830.4,414.8 L830.9,414.8 L831.4,414.8 L831.9,414.8 L832.4,414.8 L832.9,414.8 L833.4,414.8 L833.9,414.8 L834.4,414.8 L834.9,414.8 L835.4,414.8 L835.9,414.9 L836.4,414.9 L836.9,414.9 L837.4,414.9 L837.9,414.9 L838.4,414.9 L838.9,414.9" fill="none" stroke="#E0742A" stroke-width="7.7" stroke-linejoin="round" stroke-linecap="butt"/>
</g>
<line x1="521.55" y1="179.98" x2="521.55" y2="415.77" stroke="#000" stroke-width="2.15" />
<line x1="520.47" y1="414.70" x2="851.85" y2="414.70" stroke="#000" stroke-width="2.15" />
<line x1="536.35" y1="414.70" x2="536.35" y2="428.20" stroke="#000" stroke-width="2.15" />
<text transform="translate(536.35,454.00) scale(1,1.02)" font-size="29.0" text-anchor="middle" >2.5</text>
<line x1="611.38" y1="414.70" x2="611.38" y2="428.20" stroke="#000" stroke-width="2.15" />
<text transform="translate(611.38,454.00) scale(1,1.02)" font-size="29.0" text-anchor="middle" >1.25</text>
<line x1="686.40" y1="414.70" x2="686.40" y2="428.20" stroke="#000" stroke-width="2.15" />
<text transform="translate(686.40,454.00) scale(1,1.02)" font-size="29.0" text-anchor="middle" >0</text>
<line x1="761.42" y1="414.70" x2="761.42" y2="428.20" stroke="#000" stroke-width="2.15" />
<text transform="translate(761.42,454.00) scale(1,1.02)" font-size="29.0" text-anchor="middle" >1.25</text>
<line x1="836.45" y1="414.70" x2="836.45" y2="428.20" stroke="#000" stroke-width="2.15" />
<text transform="translate(836.45,454.00) scale(1,1.02)" font-size="29.0" text-anchor="middle" >2.5</text>
<line x1="507.75" y1="414.70" x2="521.55" y2="414.70" stroke="#000" stroke-width="2.15" />
<text transform="translate(502.45,425.00) scale(1,1.02)" font-size="29.0" text-anchor="end" >0</text>
<line x1="507.75" y1="336.82" x2="521.55" y2="336.82" stroke="#000" stroke-width="2.15" />
<text transform="translate(502.45,347.00) scale(1,1.02)" font-size="29.0" text-anchor="end" >1</text>
<line x1="507.75" y1="258.93" x2="521.55" y2="258.93" stroke="#000" stroke-width="2.15" />
<text transform="translate(502.45,269.00) scale(1,1.02)" font-size="29.0" text-anchor="end" >2</text>
<line x1="507.75" y1="181.05" x2="521.55" y2="181.05" stroke="#000" stroke-width="2.15" />
<text transform="translate(502.45,192.00) scale(1,1.02)" font-size="29.0" text-anchor="end" >3</text>
<text transform="translate(522.19,176.00) scale(1,1.02)" font-size="28.3" textLength="55.78" lengthAdjust="spacing">1e-2</text>
<text x="616.58" y="171.00" font-size="33.4" textLength="138.79" lengthAdjust="spacing">coh: 25.6</text>
<path d="M675.00,462.70 L581.00,462.70 L581.00,454.10 L538.90,465.45 L581.00,476.80 L581.00,468.20 L675.00,468.20 Z" fill="#929292"/>
<path d="M699.20,462.70 L793.05,462.70 L793.05,454.10 L834.70,465.45 L793.05,476.80 L793.05,468.20 L699.20,468.20 Z" fill="#929292"/>
<text x="588.48" y="488.00" font-size="20.8" textLength="80.87" lengthAdjust="spacing">Incorrect</text>
<text x="723.64" y="488.00" font-size="20.8" textLength="67.71" lengthAdjust="spacing">Correct</text>
<text x="550.46" y="527.00" font-size="33.4" textLength="273.11" lengthAdjust="spacing">Reaction times (s)</text>
</g>
<g stroke="none">
<clipPath id="clip3"><rect x="96.00" y="560.70" width="330.40" height="253.90"/></clipPath>
<g clip-path="url(#clip3)">
<path d="M275.9,814.4 L276.4,814.0 L276.9,813.1 L277.4,811.8 L277.9,810.0 L278.4,807.9 L278.9,805.5 L279.4,802.9 L279.9,800.0 L280.4,797.0 L280.9,793.7 L281.4,789.9 L281.9,785.4 L282.4,780.4 L282.9,775.1 L283.4,770.0 L283.9,764.9 L284.4,759.9 L284.9,754.8 L285.4,749.6 L285.9,744.3 L286.4,738.8 L286.9,733.1 L287.4,727.1 L287.9,721.0 L288.4,714.8 L288.9,708.5 L289.4,702.2 L289.9,696.0 L290.4,689.7 L290.9,683.4 L291.4,677.1 L291.9,670.8 L292.4,664.6 L292.9,659.0 L293.4,655.4 L293.9,655.2 L294.4,658.4 L294.9,663.2 L295.4,667.7 L295.9,671.3 L296.4,674.2 L296.9,676.8 L297.4,679.2 L297.9,681.6 L298.4,684.0 L298.9,686.3 L299.4,688.6 L299.9,690.9 L300.4,693.2 L300.9,695.5 L301.4,698.0 L301.9,700.4 L302.4,702.9 L302.9,705.5 L303.4,708.1 L303.9,710.8 L304.4,713.5 L304.9,716.3 L305.4,719.1 L305.9,721.9 L306.4,724.7 L306.9,727.5 L307.4,730.2 L307.9,732.8 L308.4,735.4 L308.9,737.9 L309.4,740.4 L309.9,742.9 L310.4,745.4 L310.9,747.8 L311.4,750.2 L311.9,752.6 L312.4,755.0 L312.9,757.4 L313.4,759.7 L313.9,762.0 L314.4,764.2 L314.9,766.4 L315.4,768.3 L315.9,770.2 L316.4,772.0 L316.9,773.8 L317.4,775.4 L317.9,777.0 L318.4,778.5 L318.9,779.8 L319.4,781.0 L319.9,782.0 L320.4,782.9 L320.9,783.7 L321.4,784.5 L321.9,785.3 L322.4,786.0 L322.9,786.7 L323.4,787.3 L323.9,787.8 L324.4,788.3 L324.9,788.7 L325.4,789.0 L325.9,789.2 L326.4,789.4 L326.9,789.5 L327.4,789.6 L327.9,789.6 L328.4,789.7 L328.9,789.8 L329.4,789.8 L329.9,789.8 L330.4,789.9 L330.9,789.9 L331.4,790.0 L331.9,790.1 L332.4,790.1 L332.9,790.3 L333.4,790.4 L333.9,790.7 L334.4,791.0 L334.9,791.5 L335.4,792.0 L335.9,792.6 L336.4,793.3 L336.9,794.1 L337.4,795.0 L337.9,796.1 L338.4,797.2 L338.9,798.2 L339.4,799.1 L339.9,799.9 L340.4,800.5 L340.9,801.1 L341.4,801.6 L341.9,802.1 L342.4,802.5 L342.9,802.9 L343.4,803.3 L343.9,803.5 L344.4,803.8 L344.9,803.9 L345.4,804.0 L345.9,804.1 L346.4,804.2 L346.9,804.2 L347.4,804.3 L347.9,804.3 L348.4,804.4 L348.9,804.4 L349.4,804.5 L349.9,804.6 L350.4,804.7 L350.9,804.8 L351.4,805.0 L351.9,805.2 L352.4,805.5 L352.9,805.7 L353.4,805.9 L353.9,806.2 L354.4,806.4 L354.9,806.5 L355.4,806.7 L355.9,806.8 L356.4,806.8 L356.9,806.9 L357.4,807.0 L357.9,807.0 L358.4,807.0 L358.9,807.1 L359.4,807.1 L359.9,807.1 L360.4,807.2 L360.9,807.2 L361.4,807.3 L361.9,807.3 L362.4,807.4 L362.9,807.4 L363.4,807.5 L363.9,807.6 L364.4,807.7 L364.9,807.8 L365.4,808.0 L365.9,808.1 L366.4,808.3 L366.9,808.5 L367.4,808.7 L367.9,809.0 L368.4,809.2 L368.9,809.5 L369.4,809.7 L369.9,809.9 L370.4,810.2 L370.9,810.4 L371.4,810.6 L371.9,810.8 L372.4,811.0 L372.9,811.1 L373.4,811.3 L373.9,811.4 L374.4,811.6 L374.9,811.8 L375.4,811.9 L375.9,812.1 L376.4,812.2 L376.9,812.3 L377.4,812.5 L377.9,812.6 L378.4,812.8 L378.9,812.9 L379.4,813.1 L379.9,813.2 L380.4,813.4 L380.9,813.5 L381.4,813.6 L381.9,813.8 L382.4,813.9 L382.9,814.1 L383.4,814.2 L383.9,814.4 L384.4,814.5 L384.9,814.6 L384.9,814.6 L275.9,814.6 Z" fill="#999999" stroke="#999999" stroke-width="1.2" stroke-linejoin="round"/>
<path d="M182.8,814.4 L183.3,814.1 L183.8,813.7 L184.3,813.3 L184.8,812.9 L185.3,812.5 L185.8,812.0 L186.3,811.6 L186.8,811.2 L187.3,810.8 L187.8,810.3 L188.3,809.9 L188.8,809.5 L189.3,809.0 L189.8,808.6 L190.3,808.1 L190.8,807.7 L191.3,807.3 L191.8,806.8 L192.3,806.4 L192.8,805.9 L193.3,805.5 L193.8,805.0 L194.3,804.5 L194.8,804.1 L195.3,803.5 L195.8,803.0 L196.3,802.4 L196.8,801.9 L197.3,801.3 L197.8,800.7 L198.3,800.1 L198.8,799.6 L199.3,799.1 L199.8,798.6 L200.3,798.1 L200.8,797.6 L201.3,797.2 L201.8,796.7 L202.3,796.3 L202.8,795.9 L203.3,795.5 L203.8,795.2 L204.3,794.9 L204.8,794.7 L205.3,794.5 L205.8,794.3 L206.3,794.2 L206.8,794.0 L207.3,793.8 L207.8,793.4 L208.3,792.8 L208.8,791.8 L209.3,790.7 L209.8,789.3 L210.3,787.8 L210.8,786.3 L211.3,784.8 L211.8,783.3 L212.3,781.9 L212.8,780.4 L213.3,778.9 L213.8,777.4 L214.3,775.8 L214.8,774.3 L215.3,772.8 L215.8,771.3 L216.3,769.8 L216.8,768.2 L217.3,766.7 L217.8,765.2 L218.3,763.9 L218.8,762.6 L219.3,761.5 L219.8,760.6 L220.3,759.8 L220.8,759.0 L221.3,758.3 L221.8,757.7 L222.3,757.3 L222.8,757.1 L223.3,757.1 L223.8,757.4 L224.3,757.9 L224.8,758.6 L225.3,759.5 L225.8,760.5 L226.3,761.8 L226.8,763.2 L227.3,764.7 L227.8,766.0 L228.3,767.0 L228.8,767.9 L229.3,768.5 L229.8,769.1 L230.3,769.5 L230.8,769.9 L231.3,770.2 L231.8,770.4 L232.3,770.7 L232.8,771.1 L233.3,771.7 L233.8,772.5 L234.3,773.4 L234.8,774.3 L235.3,775.3 L235.8,776.3 L236.3,777.4 L236.8,778.6 L237.3,779.8 L237.8,781.0 L238.3,782.4 L238.8,783.7 L239.3,785.2 L239.8,786.7 L240.3,788.2 L240.8,789.9 L241.3,791.6 L241.8,793.3 L242.3,795.0 L242.8,796.6 L243.3,798.1 L243.8,799.6 L244.3,801.0 L244.8,802.3 L245.3,803.6 L245.8,804.8 L246.3,805.8 L246.8,806.8 L247.3,807.8 L247.8,808.8 L248.3,809.8 L248.8,810.8 L249.3,811.9 L249.8,813.0 L250.3,813.8 L250.3,814.6 L182.8,814.6 Z" fill="#999999" stroke="#999999" stroke-width="1.2" stroke-linejoin="round"/>
<path d="M164.9,814.2 L165.4,813.6 L165.9,812.9 L166.4,812.1 L166.9,811.4 L167.4,810.7 L167.9,810.1 L168.4,809.5 L168.9,809.0 L169.4,808.5 L169.9,808.1 L170.4,807.7 L170.9,807.4 L171.4,807.1 L171.9,806.8 L172.4,806.5 L172.9,806.3 L173.4,806.2 L173.9,806.2 L174.4,806.2 L174.9,806.4 L175.4,806.6 L175.9,806.8 L176.4,807.1 L176.9,807.5 L177.4,807.8 L177.9,808.2 L178.4,808.6 L178.9,809.1 L179.4,809.6 L179.9,810.2 L180.4,810.8 L180.9,811.5 L181.4,812.3 L181.9,813.0 L182.4,813.7 L182.8,814.2 L182.8,814.6 L164.9,814.6 Z" fill="#999999" stroke="#999999" stroke-width="1.2" stroke-linejoin="round"/>
<path d="M294.4,669.2 L294.7,673.7 L294.9,677.3 L295.2,680.2 L295.4,682.8 L295.7,685.2" fill="none" stroke="#cccccc" stroke-width="0.45" stroke-dasharray="2.6,1.6"/>
<path d="M107.2,814.8 L107.7,814.8 L108.2,814.8 L108.7,814.8 L109.2,814.8 L109.7,814.8 L110.2,814.8 L110.7,814.7 L111.2,814.7 L111.7,814.7 L112.2,814.7 L112.7,814.7 L113.2,814.7 L113.7,814.7 L114.2,814.7 L114.7,814.7 L115.2,814.7 L115.7,814.7 L116.2,814.7 L116.7,814.7 L117.2,814.6 L117.7,814.6 L118.2,814.6 L118.7,814.6 L119.2,814.6 L119.7,814.6 L120.2,814.6 L120.7,814.6 L121.2,814.6 L121.7,814.6 L122.2,814.6 L122.7,814.5 L123.2,814.5 L123.7,814.5 L124.2,814.5 L124.7,814.5 L125.2,814.5 L125.7,814.5 L126.2,814.5 L126.7,814.5 L127.2,814.5 L127.7,814.4 L128.2,814.4 L128.7,814.4 L129.2,814.4 L129.7,814.4 L130.2,814.4 L130.7,814.4 L131.2,814.4 L131.7,814.4 L132.2,814.4 L132.7,814.3 L133.2,814.3 L133.7,814.3 L134.2,814.3 L134.7,814.3 L135.2,814.3 L135.7,814.3 L136.2,814.3 L136.7,814.3 L137.2,814.3 L137.7,814.3 L138.2,814.2 L138.7,814.2 L139.2,814.2 L139.7,814.2 L140.2,814.2 L140.7,814.2 L141.2,814.2 L141.7,814.2 L142.2,814.2 L142.7,814.1 L143.2,814.1 L143.7,814.1 L144.2,814.1 L144.7,814.1 L145.2,814.1 L145.7,814.1 L146.2,814.0 L146.7,814.0 L147.2,814.0 L147.7,814.0 L148.2,814.0 L148.7,814.0 L149.2,813.9 L149.7,813.9 L150.2,813.9 L150.7,813.9 L151.2,813.8 L151.7,813.8 L152.2,813.8 L152.7,813.7 L153.2,813.7 L153.7,813.6 L154.2,813.6 L154.7,813.5 L155.2,813.5 L155.7,813.4 L156.2,813.3 L156.7,813.3 L157.2,813.2 L157.7,813.2 L158.2,813.1 L158.7,813.1 L159.2,813.0 L159.7,812.9 L160.2,812.9 L160.7,812.8 L161.2,812.8 L161.7,812.7 L162.2,812.6 L162.7,812.6 L163.2,812.5 L163.7,812.4 L164.2,812.4 L164.7,812.3 L165.2,812.2 L165.7,812.2 L166.2,812.1 L166.7,812.0 L167.2,812.0 L167.7,811.9 L168.2,811.8 L168.7,811.8 L169.2,811.7 L169.7,811.6 L170.2,811.6 L170.7,811.5 L171.2,811.4 L171.7,811.4 L172.2,811.3 L172.7,811.3 L173.2,811.2 L173.7,811.2 L174.2,811.1 L174.7,811.1 L175.2,811.0 L175.7,810.9 L176.2,810.9 L176.7,810.8 L177.2,810.7 L177.7,810.6 L178.2,810.5 L178.7,810.4 L179.2,810.2 L179.7,810.1 L180.2,809.9 L180.7,809.6 L181.2,809.3 L181.7,809.0 L182.2,808.7 L182.7,808.4 L183.2,808.1 L183.7,807.7 L184.2,807.4 L184.7,807.1 L185.2,806.8 L185.7,806.5 L186.2,806.2 L186.7,805.9 L187.2,805.6 L187.7,805.2 L188.2,804.9 L188.7,804.6 L189.2,804.2 L189.7,803.8 L190.2,803.4 L190.7,803.0 L191.2,802.5 L191.7,802.1 L192.2,801.6 L192.7,801.1 L193.2,800.6 L193.7,800.1 L194.2,799.5 L194.7,799.0 L195.2,798.5 L195.7,797.9 L196.2,797.4 L196.7,796.9 L197.2,796.3 L197.7,795.8 L198.2,795.2 L198.7,794.7 L199.2,794.1 L199.7,793.5 L200.2,792.9 L200.7,792.4 L201.2,791.8 L201.7,791.2 L202.2,790.6 L202.7,790.0 L203.2,789.4 L203.7,788.7 L204.2,788.0 L204.7,787.3 L205.2,786.6 L205.7,785.8 L206.2,784.9 L206.7,784.1 L207.2,783.2 L207.7,782.4 L208.2,781.5 L208.7,780.7 L209.2,779.8 L209.7,779.0 L210.2,778.3 L210.7,777.5 L211.2,776.8 L211.7,776.1 L212.2,775.4 L212.7,774.8 L213.2,774.1 L213.7,773.6 L214.2,773.1 L214.7,772.6 L215.2,772.1 L215.7,771.7 L216.2,771.4 L216.7,771.0 L217.2,770.7 L217.7,770.4 L218.2,770.1 L218.7,769.9 L219.2,769.7 L219.7,769.5 L220.2,769.4 L220.7,769.2 L221.2,769.2 L221.7,769.1 L222.2,769.1 L222.7,769.1 L223.2,769.3 L223.7,769.5 L224.2,769.7 L224.7,770.1 L225.2,770.5 L225.7,771.0 L226.2,771.5 L226.7,772.1 L227.2,772.7 L227.7,773.4 L228.2,774.2 L228.7,775.0 L229.2,775.9 L229.7,776.9 L230.2,778.0 L230.7,779.1 L231.2,780.2 L231.7,781.4 L232.2,782.6 L232.7,783.9 L233.2,785.2 L233.7,786.5 L234.2,787.8 L234.7,789.1 L235.2,790.4 L235.7,791.7 L236.2,793.0 L236.7,794.3 L237.2,795.6 L237.7,796.9 L238.2,798.2 L238.7,799.5 L239.2,800.8 L239.7,802.0 L240.2,803.1 L240.7,804.2 L241.2,805.1 L241.7,805.9 L242.2,806.7 L242.7,807.4 L243.2,808.1 L243.7,808.8 L244.2,809.4 L244.7,810.0 L245.2,810.7 L245.7,811.2 L246.2,811.8 L246.7,812.3 L247.2,812.7 L247.7,813.1 L248.2,813.5 L248.7,813.8 L249.2,814.0 L249.7,814.2 L250.2,814.4 L250.7,814.5 L251.2,814.5 L251.7,814.6 L252.2,814.6 L252.7,814.7 L253.2,814.7 L253.7,814.7 L254.2,814.8 L254.7,814.8 L255.2,814.8 L255.7,814.8 L256.2,814.8 L256.7,814.8 L257.2,814.8 L257.7,814.8 L258.2,814.8 L258.7,814.8 L259.2,814.8 L259.7,814.8 L260.2,814.8 L260.7,814.8 L261.2,814.8 L261.7,814.8 L262.2,814.8 L262.7,814.8 L263.2,814.8 L263.7,814.8 L264.2,814.8 L264.7,814.8 L265.2,814.8 L265.7,814.8 L266.2,814.8 L266.7,814.7 L267.2,814.7 L267.7,814.6 L268.2,814.5 L268.7,814.3 L269.2,814.2 L269.7,814.0 L270.2,813.7 L270.7,813.3 L271.2,812.8 L271.7,812.2 L272.2,811.5 L272.7,810.6 L273.2,809.5 L273.7,808.4 L274.2,807.0 L274.7,805.5 L275.2,803.7 L275.7,801.7 L276.2,799.3 L276.7,796.6 L277.2,793.5 L277.7,790.1 L278.2,786.1 L278.7,781.6 L279.2,776.6 L279.7,771.1 L280.2,765.3 L280.7,759.3 L281.2,753.2 L281.7,747.1 L282.2,740.8 L282.7,734.3 L283.2,727.5 L283.7,720.5 L284.2,713.4 L284.7,706.3 L285.2,699.5 L285.7,693.0 L286.2,687.0 L286.7,681.4 L287.2,676.3 L287.7,671.5 L288.2,667.2 L288.7,663.3 L289.2,659.7 L289.7,656.6 L290.2,653.7 L290.7,651.1 L291.2,648.6 L291.7,646.4 L292.2,644.5 L292.7,642.9 L293.2,641.7 L293.7,641.0 L294.2,640.9 L294.7,641.4 L295.2,642.5 L295.7,644.1 L296.2,646.1 L296.7,648.4 L297.2,650.8 L297.7,653.4 L298.2,656.1 L298.7,658.8 L299.2,661.7 L299.7,664.6 L300.2,667.7 L300.7,670.7 L301.2,673.7 L301.7,676.7 L302.2,679.5 L302.7,682.2 L303.2,684.9 L303.7,687.5 L304.2,690.0 L304.7,692.4 L305.2,694.7 L305.7,696.9 L306.2,699.0 L306.7,701.0 L307.2,703.0 L307.7,705.1 L308.2,707.3 L308.7,709.8 L309.2,712.6 L309.7,715.7 L310.2,719.1 L310.7,722.6 L311.2,726.1 L311.7,729.5 L312.2,732.7 L312.7,735.8 L313.2,738.8 L313.7,741.7 L314.2,744.6 L314.7,747.4 L315.2,750.3 L315.7,753.1 L316.2,755.9 L316.7,758.6 L317.2,761.4 L317.7,764.0 L318.2,766.5 L318.7,768.9 L319.2,771.2 L319.7,773.3 L320.2,775.4 L320.7,777.3 L321.2,779.0 L321.7,780.5 L322.2,781.8 L322.7,782.9 L323.2,783.9 L323.7,784.7 L324.2,785.5 L324.7,786.2 L325.2,786.8 L325.7,787.4 L326.2,788.0 L326.7,788.6 L327.2,789.1 L327.7,789.6 L328.2,790.1 L328.7,790.6 L329.2,791.1 L329.7,791.6 L330.2,792.1 L330.7,792.7 L331.2,793.4 L331.7,794.2 L332.2,795.0 L332.7,795.9 L333.2,796.8 L333.7,797.6 L334.2,798.4 L334.7,799.2 L335.2,800.0 L335.7,800.7 L336.2,801.4 L336.7,802.1 L337.2,802.7 L337.7,803.3 L338.2,803.8 L338.7,804.3 L339.2,804.8 L339.7,805.2 L340.2,805.5 L340.7,805.9 L341.2,806.2 L341.7,806.5 L342.2,806.8 L342.7,807.0 L343.2,807.3 L343.7,807.5 L344.2,807.8 L344.7,808.0 L345.2,808.2 L345.7,808.4 L346.2,808.7 L346.7,808.9 L347.2,809.0 L347.7,809.2 L348.2,809.4 L348.7,809.6 L349.2,809.7 L349.7,809.9 L350.2,810.0 L350.7,810.2 L351.2,810.3 L351.7,810.5 L352.2,810.6 L352.7,810.7 L353.2,810.8 L353.7,811.0 L354.2,811.1 L354.7,811.2 L355.2,811.3 L355.7,811.4 L356.2,811.5 L356.7,811.6 L357.2,811.7 L357.7,811.8 L358.2,811.9 L358.7,812.0 L359.2,812.1 L359.7,812.2 L360.2,812.2 L360.7,812.3 L361.2,812.4 L361.7,812.5 L362.2,812.5 L362.7,812.6 L363.2,812.7 L363.7,812.7 L364.2,812.8 L364.7,812.9 L365.2,812.9 L365.7,813.0 L366.2,813.0 L366.7,813.1 L367.2,813.1 L367.7,813.2 L368.2,813.2 L368.7,813.3 L369.2,813.3 L369.7,813.4 L370.2,813.4 L370.7,813.5 L371.2,813.5 L371.7,813.6 L372.2,813.6 L372.7,813.7 L373.2,813.7 L373.7,813.7 L374.2,813.8 L374.7,813.8 L375.2,813.9 L375.7,813.9 L376.2,813.9 L376.7,814.0 L377.2,814.0 L377.7,814.1 L378.2,814.1 L378.7,814.1 L379.2,814.1 L379.7,814.2 L380.2,814.2 L380.7,814.2 L381.2,814.3 L381.7,814.3 L382.2,814.3 L382.7,814.3 L383.2,814.3 L383.7,814.4 L384.2,814.4 L384.7,814.4 L385.2,814.4 L385.7,814.4 L386.2,814.4 L386.7,814.4 L387.2,814.5 L387.7,814.5 L388.2,814.5 L388.7,814.5 L389.2,814.5 L389.7,814.5 L390.2,814.5 L390.7,814.5 L391.2,814.5 L391.7,814.6 L392.2,814.6 L392.7,814.6 L393.2,814.6 L393.7,814.6 L394.2,814.6 L394.7,814.6 L395.2,814.6 L395.7,814.6 L396.2,814.6 L396.7,814.6 L397.2,814.7 L397.7,814.7 L398.2,814.7 L398.7,814.7 L399.2,814.7 L399.7,814.7 L400.2,814.7 L400.7,814.7 L401.2,814.7 L401.7,814.7 L402.2,814.7 L402.7,814.7 L403.2,814.7 L403.7,814.7 L404.2,814.7 L404.7,814.8 L405.2,814.8 L405.7,814.8 L406.2,814.8 L406.7,814.8 L407.2,814.8 L407.7,814.8 L408.2,814.8 L408.7,814.8 L409.2,814.8 L409.7,814.8 L410.2,814.8 L410.7,814.8 L411.2,814.8 L411.7,814.8 L412.2,814.8 L412.7,814.8 L413.2,814.8 L413.6,814.8" fill="none" stroke="#E0742A" stroke-width="7.7" stroke-linejoin="round" stroke-linecap="butt"/>
</g>
<line x1="96.00" y1="579.62" x2="96.00" y2="815.68" stroke="#000" stroke-width="2.15" />
<line x1="94.92" y1="814.60" x2="426.40" y2="814.60" stroke="#000" stroke-width="2.15" />
<line x1="110.80" y1="814.60" x2="110.80" y2="828.10" stroke="#000" stroke-width="2.15" />
<text transform="translate(110.80,854.00) scale(1,1.02)" font-size="29.0" text-anchor="middle" >2.5</text>
<line x1="185.83" y1="814.60" x2="185.83" y2="828.10" stroke="#000" stroke-width="2.15" />
<text transform="translate(185.83,854.00) scale(1,1.02)" font-size="29.0" text-anchor="middle" >1.25</text>
<line x1="260.85" y1="814.60" x2="260.85" y2="828.10" stroke="#000" stroke-width="2.15" />
<text transform="translate(260.85,854.00) scale(1,1.02)" font-size="29.0" text-anchor="middle" >0</text>
<line x1="335.88" y1="814.60" x2="335.88" y2="828.10" stroke="#000" stroke-width="2.15" />
<text transform="translate(335.88,854.00) scale(1,1.02)" font-size="29.0" text-anchor="middle" >1.25</text>
<line x1="410.90" y1="814.60" x2="410.90" y2="828.10" stroke="#000" stroke-width="2.15" />
<text transform="translate(410.90,854.00) scale(1,1.02)" font-size="29.0" text-anchor="middle" >2.5</text>
<line x1="82.20" y1="814.60" x2="96.00" y2="814.60" stroke="#000" stroke-width="2.15" />
<text transform="translate(76.90,825.00) scale(1,1.02)" font-size="29.0" text-anchor="end" >0.0</text>
<line x1="82.20" y1="756.12" x2="96.00" y2="756.12" stroke="#000" stroke-width="2.15" />
<text transform="translate(76.90,767.00) scale(1,1.02)" font-size="29.0" text-anchor="end" >0.5</text>
<line x1="82.20" y1="697.65" x2="96.00" y2="697.65" stroke="#000" stroke-width="2.15" />
<text transform="translate(76.90,708.00) scale(1,1.02)" font-size="29.0" text-anchor="end" >1.0</text>
<line x1="82.20" y1="639.18" x2="96.00" y2="639.18" stroke="#000" stroke-width="2.15" />
<text transform="translate(76.90,650.00) scale(1,1.02)" font-size="29.0" text-anchor="end" >1.5</text>
<line x1="82.20" y1="580.70" x2="96.00" y2="580.70" stroke="#000" stroke-width="2.15" />
<text transform="translate(76.90,591.00) scale(1,1.02)" font-size="29.0" text-anchor="end" >2.0</text>
<text transform="translate(96.64,576.00) scale(1,1.02)" font-size="28.3" textLength="55.78" lengthAdjust="spacing">1e-2</text>
<text x="191.28" y="570.00" font-size="33.4" textLength="138.77" lengthAdjust="spacing">coh: 12.8</text>
<path d="M248.85,861.60 L154.60,861.60 L154.60,853.00 L112.60,864.35 L154.60,875.70 L154.60,867.10 L248.85,867.10 Z" fill="#929292"/>
<path d="M273.00,861.60 L366.40,861.60 L366.40,853.00 L408.60,864.35 L366.40,875.70 L366.40,867.10 L273.00,867.10 Z" fill="#929292"/>
<text x="162.68" y="887.00" font-size="20.8" textLength="80.07" lengthAdjust="spacing">Incorrect</text>
<text x="296.24" y="887.00" font-size="20.8" textLength="67.16" lengthAdjust="spacing">Correct</text>
<text x="124.86" y="926.00" font-size="33.4" textLength="272.71" lengthAdjust="spacing">Reaction times (s)</text>
</g>
<g stroke="none">
<clipPath id="clip4"><rect x="525.10" y="560.70" width="330.35" height="253.90"/></clipPath>
<g clip-path="url(#clip4)">
<path d="M705.0,813.0 L705.5,810.8 L706.0,807.7 L706.5,804.2 L707.0,800.6 L707.5,796.9 L708.0,793.1 L708.5,789.3 L709.0,785.4 L709.5,781.5 L710.0,777.4 L710.5,773.2 L711.0,768.5 L711.5,763.5 L712.0,757.8 L712.5,751.7 L713.0,745.3 L713.5,739.0 L714.0,732.7 L714.5,726.5 L715.0,720.3 L715.5,714.0 L716.0,707.8 L716.5,701.6 L717.0,695.5 L717.5,689.5 L718.0,683.7 L718.5,678.1 L719.0,672.9 L719.5,668.3 L720.0,664.3 L720.5,661.1 L721.0,658.8 L721.5,657.3 L722.0,656.3 L722.5,655.8 L723.0,655.7 L723.5,656.0 L724.0,656.5 L724.5,657.2 L725.0,658.1 L725.5,659.0 L726.0,660.2 L726.5,661.5 L727.0,663.0 L727.5,664.7 L728.0,666.4 L728.5,668.2 L729.0,670.0 L729.5,672.0 L730.0,674.2 L730.5,676.6 L731.0,679.2 L731.5,682.0 L732.0,684.9 L732.5,687.8 L733.0,690.7 L733.5,693.5 L734.0,696.3 L734.5,699.1 L735.0,702.0 L735.5,705.0 L736.0,708.2 L736.5,711.5 L737.0,715.0 L737.5,718.5 L738.0,722.0 L738.5,725.3 L739.0,728.3 L739.5,731.0 L740.0,733.6 L740.5,736.0 L741.0,738.3 L741.5,740.5 L742.0,742.6 L742.5,744.6 L743.0,746.5 L743.5,748.3 L744.0,750.0 L744.5,751.6 L745.0,753.2 L745.5,754.7 L746.0,756.2 L746.5,757.7 L747.0,759.1 L747.5,760.4 L748.0,761.6 L748.5,762.6 L749.0,763.5 L749.5,764.3 L750.0,764.9 L750.5,765.4 L751.0,765.7 L751.5,766.0 L752.0,766.3 L752.5,766.5 L753.0,766.7 L753.5,766.9 L754.0,767.1 L754.5,767.4 L755.0,767.7 L755.5,768.0 L756.0,768.6 L756.5,769.4 L757.0,770.6 L757.5,772.4 L758.0,774.4 L758.5,776.6 L759.0,778.6 L759.5,780.4 L760.0,781.7 L760.5,782.8 L761.0,783.6 L761.5,784.4 L762.0,785.1 L762.5,785.7 L763.0,786.3 L763.5,786.7 L764.0,787.1 L764.5,787.5 L765.0,787.8 L765.5,788.0 L766.0,788.1 L766.5,788.3 L767.0,788.4 L767.5,788.5 L768.0,788.7 L768.5,788.9 L769.0,789.3 L769.5,789.8 L770.0,790.5 L770.5,791.3 L771.0,792.2 L771.5,793.2 L772.0,794.2 L772.5,795.0 L773.0,795.8 L773.5,796.4 L774.0,796.8 L774.5,797.0 L775.0,797.2 L775.5,797.4 L776.0,797.5 L776.5,797.6 L777.0,797.7 L777.5,797.8 L778.0,797.9 L778.5,798.0 L779.0,798.2 L779.5,798.4 L780.0,798.6 L780.5,798.9 L781.0,799.3 L781.5,799.6 L782.0,800.0 L782.5,800.5 L783.0,800.9 L783.5,801.3 L784.0,801.7 L784.5,802.1 L785.0,802.5 L785.5,802.9 L786.0,803.3 L786.5,803.7 L787.0,804.1 L787.5,804.4 L788.0,804.8 L788.5,805.2 L789.0,805.5 L789.5,805.9 L790.0,806.2 L790.5,806.5 L791.0,806.8 L791.5,807.0 L792.0,807.3 L792.5,807.6 L793.0,807.8 L793.5,808.1 L794.0,808.3 L794.5,808.5 L795.0,808.8 L795.5,809.0 L796.0,809.2 L796.5,809.4 L797.0,809.6 L797.5,809.8 L798.0,809.9 L798.5,810.1 L799.0,810.3 L799.5,810.5 L800.0,810.6 L800.5,810.8 L801.0,810.9 L801.5,811.0 L802.0,811.1 L802.5,811.2 L803.0,811.3 L803.5,811.4 L804.0,811.5 L804.5,811.6 L805.0,811.6 L805.5,811.7 L806.0,811.8 L806.5,811.8 L807.0,811.9 L807.5,812.0 L808.0,812.0 L808.5,812.1 L809.0,812.1 L809.5,812.2 L810.0,812.2 L810.5,812.3 L811.0,812.3 L811.5,812.4 L812.0,812.4 L812.5,812.4 L813.0,812.5 L813.5,812.5 L814.0,812.5 L814.5,812.5 L815.0,812.5 L815.5,812.4 L816.0,812.2 L816.5,812.0 L817.0,811.8 L817.5,811.5 L818.0,811.2 L818.5,811.0 L819.0,810.8 L819.5,810.6 L820.0,810.6 L820.5,810.7 L821.0,810.9 L821.5,811.3 L822.0,811.8 L822.5,812.4 L823.0,813.1 L823.5,813.7 L824.0,814.2 L824.0,814.6 L705.0,814.6 Z" fill="#999999" stroke="#999999" stroke-width="1.2" stroke-linejoin="round"/>
<path d="M602.7,814.4 L603.2,814.2 L603.7,814.0 L604.2,813.7 L604.7,813.3 L605.2,813.0 L605.7,812.7 L606.2,812.3 L606.7,812.0 L607.2,811.6 L607.7,811.2 L608.2,810.8 L608.7,810.4 L609.2,810.0 L609.7,809.6 L610.2,809.1 L610.7,808.7 L611.2,808.2 L611.7,807.7 L612.2,807.2 L612.7,806.7 L613.2,806.1 L613.7,805.6 L614.2,805.1 L614.7,804.6 L615.2,804.0 L615.7,803.5 L616.2,803.0 L616.7,802.5 L617.2,802.1 L617.7,801.6 L618.2,801.1 L618.7,800.6 L619.2,800.2 L619.7,799.7 L620.2,799.2 L620.7,798.7 L621.2,798.2 L621.7,797.8 L622.2,797.3 L622.7,796.7 L623.2,796.2 L623.7,795.7 L624.2,795.1 L624.7,794.6 L625.2,794.0 L625.7,793.4 L626.2,792.8 L626.7,792.2 L627.2,791.6 L627.7,791.0 L628.2,790.3 L628.7,789.6 L629.2,788.9 L629.7,788.2 L630.2,787.4 L630.7,786.5 L631.2,785.6 L631.7,784.6 L632.2,783.5 L632.7,782.3 L633.2,781.0 L633.7,779.5 L634.2,778.0 L634.7,776.4 L635.2,774.8 L635.7,773.1 L636.2,771.4 L636.7,769.8 L637.2,768.1 L637.7,766.6 L638.2,765.0 L638.7,763.5 L639.2,761.9 L639.7,760.4 L640.2,758.8 L640.7,757.2 L641.2,755.7 L641.7,754.2 L642.2,752.8 L642.7,751.4 L643.2,750.0 L643.7,748.7 L644.2,747.5 L644.7,746.2 L645.2,745.0 L645.7,743.9 L646.2,742.7 L646.7,741.6 L647.2,740.6 L647.7,739.6 L648.2,738.6 L648.7,737.7 L649.2,736.7 L649.7,735.8 L650.2,734.9 L650.7,734.0 L651.2,733.2 L651.7,732.4 L652.2,731.7 L652.7,731.1 L653.2,730.6 L653.7,730.2 L654.2,729.9 L654.7,729.6 L655.2,729.3 L655.7,729.1 L656.2,728.8 L656.7,728.6 L657.2,728.5 L657.7,728.3 L658.2,728.3 L658.7,728.3 L659.2,728.5 L659.7,728.9 L660.2,729.7 L660.7,730.7 L661.2,731.8 L661.7,732.9 L662.2,734.0 L662.7,735.2 L663.2,736.4 L663.7,737.6 L664.2,738.9 L664.7,740.1 L665.2,741.2 L665.7,742.3 L666.2,743.4 L666.7,744.8 L667.2,746.6 L667.7,749.4 L668.2,753.2 L668.7,757.7 L669.2,762.3 L669.7,766.8 L670.2,771.1 L670.7,775.0 L671.2,778.6 L671.7,781.9 L672.2,784.9 L672.7,787.8 L673.2,790.6 L673.7,793.3 L674.2,796.1 L674.7,798.7 L675.2,801.1 L675.7,803.3 L676.2,805.1 L676.7,806.7 L677.2,808.0 L677.7,809.2 L678.2,810.3 L678.7,811.4 L679.2,812.3 L679.7,813.1 L680.2,813.8 L680.6,814.3 L680.6,814.6 L602.7,814.6 Z" fill="#999999" stroke="#999999" stroke-width="1.2" stroke-linejoin="round"/>
<path d="M570.0,814.1 L570.5,813.5 L571.0,812.7 L571.5,811.9 L572.0,811.2 L572.5,810.5 L573.0,810.0 L573.5,809.6 L574.0,809.4 L574.5,809.2 L575.0,809.1 L575.5,809.0 L576.0,809.0 L576.5,808.9 L577.0,808.8 L577.5,808.7 L578.0,808.6 L578.5,808.3 L579.0,808.0 L579.5,807.6 L580.0,807.2 L580.5,806.9 L581.0,806.6 L581.5,806.4 L582.0,806.4 L582.5,806.5 L583.0,806.7 L583.5,806.9 L584.0,807.2 L584.5,807.6 L585.0,807.9 L585.5,808.1 L586.0,808.4 L586.5,808.5 L587.0,808.6 L587.5,808.7 L588.0,808.7 L588.5,808.6 L589.0,808.6 L589.5,808.6 L590.0,808.6 L590.5,808.6 L591.0,808.5 L591.5,808.5 L592.0,808.5 L592.5,808.4 L593.0,808.4 L593.5,808.3 L594.0,808.3 L594.5,808.2 L595.0,808.2 L595.5,808.1 L596.0,808.0 L596.5,807.9 L597.0,807.6 L597.5,807.3 L598.0,806.9 L598.5,806.4 L599.0,805.9 L599.5,805.3 L600.0,804.8 L600.5,804.3 L601.0,803.8 L601.5,803.4 L602.0,803.0 L602.5,802.6 L603.0,802.2 L603.5,801.9 L604.0,801.7 L604.5,801.6 L605.0,801.6 L605.5,801.7 L606.0,801.9 L606.5,802.2 L607.0,802.6 L607.5,803.0 L608.0,803.5 L608.5,804.1 L609.0,804.7 L609.5,805.5 L610.0,806.4 L610.5,807.5 L611.0,808.6 L611.5,809.8 L612.0,811.1 L612.5,812.4 L613.0,813.5 L613.0,814.6 L570.0,814.6 Z" fill="#999999" stroke="#999999" stroke-width="1.2" stroke-linejoin="round"/>
<path d="M723.5,662.5 L723.8,663.2 L724.0,664.1 L724.2,665.0 L724.5,666.2 L724.8,667.5 L725.0,669.0 L725.2,670.7 L725.5,672.4 L725.8,674.2 L726.0,676.0 L726.2,678.0 L726.5,680.2 L726.8,682.6 L727.0,685.2" fill="none" stroke="#cccccc" stroke-width="0.45" stroke-dasharray="2.6,1.6"/>
<path d="M536.2,814.8 L536.7,814.8 L537.2,814.8 L537.7,814.8 L538.2,814.8 L538.7,814.7 L539.2,814.7 L539.7,814.7 L540.2,814.7 L540.7,814.7 L541.2,814.7 L541.7,814.7 L542.2,814.7 L542.7,814.7 L543.2,814.7 L543.7,814.7 L544.2,814.6 L544.7,814.6 L545.2,814.6 L545.7,814.6 L546.2,814.6 L546.7,814.6 L547.2,814.6 L547.7,814.6 L548.2,814.6 L548.7,814.6 L549.2,814.6 L549.7,814.6 L550.2,814.6 L550.7,814.5 L551.2,814.5 L551.7,814.5 L552.2,814.5 L552.7,814.5 L553.2,814.5 L553.7,814.5 L554.2,814.5 L554.7,814.5 L555.2,814.5 L555.7,814.5 L556.2,814.5 L556.7,814.5 L557.2,814.5 L557.7,814.5 L558.2,814.5 L558.7,814.5 L559.2,814.5 L559.7,814.5 L560.2,814.5 L560.7,814.5 L561.2,814.5 L561.7,814.5 L562.2,814.5 L562.7,814.5 L563.2,814.5 L563.7,814.5 L564.2,814.4 L564.7,814.4 L565.2,814.4 L565.7,814.4 L566.2,814.4 L566.7,814.4 L567.2,814.4 L567.7,814.4 L568.2,814.4 L568.7,814.4 L569.2,814.4 L569.7,814.4 L570.2,814.4 L570.7,814.4 L571.2,814.3 L571.7,814.3 L572.2,814.2 L572.7,814.2 L573.2,814.1 L573.7,814.1 L574.2,814.0 L574.7,813.9 L575.2,813.8 L575.7,813.7 L576.2,813.6 L576.7,813.5 L577.2,813.4 L577.7,813.3 L578.2,813.2 L578.7,813.1 L579.2,813.0 L579.7,812.9 L580.2,812.8 L580.7,812.7 L581.2,812.7 L581.7,812.6 L582.2,812.5 L582.7,812.5 L583.2,812.4 L583.7,812.4 L584.2,812.3 L584.7,812.3 L585.2,812.2 L585.7,812.2 L586.2,812.2 L586.7,812.1 L587.2,812.1 L587.7,812.1 L588.2,812.0 L588.7,812.0 L589.2,812.0 L589.7,812.0 L590.2,811.9 L590.7,811.9 L591.2,811.9 L591.7,811.8 L592.2,811.8 L592.7,811.8 L593.2,811.7 L593.7,811.7 L594.2,811.6 L594.7,811.6 L595.2,811.5 L595.7,811.4 L596.2,811.4 L596.7,811.3 L597.2,811.2 L597.7,811.1 L598.2,810.9 L598.7,810.8 L599.2,810.6 L599.7,810.4 L600.2,810.2 L600.7,810.0 L601.2,809.8 L601.7,809.6 L602.2,809.3 L602.7,809.1 L603.2,808.8 L603.7,808.5 L604.2,808.1 L604.7,807.7 L605.2,807.3 L605.7,806.9 L606.2,806.5 L606.7,806.1 L607.2,805.6 L607.7,805.2 L608.2,804.7 L608.7,804.3 L609.2,803.8 L609.7,803.3 L610.2,802.8 L610.7,802.3 L611.2,801.8 L611.7,801.3 L612.2,800.8 L612.7,800.3 L613.2,799.8 L613.7,799.2 L614.2,798.7 L614.7,798.2 L615.2,797.7 L615.7,797.1 L616.2,796.6 L616.7,796.1 L617.2,795.5 L617.7,795.0 L618.2,794.4 L618.7,793.9 L619.2,793.3 L619.7,792.6 L620.2,792.0 L620.7,791.4 L621.2,790.7 L621.7,790.0 L622.2,789.3 L622.7,788.5 L623.2,787.8 L623.7,787.0 L624.2,786.2 L624.7,785.4 L625.2,784.6 L625.7,783.7 L626.2,782.9 L626.7,782.0 L627.2,781.1 L627.7,780.2 L628.2,779.3 L628.7,778.4 L629.2,777.5 L629.7,776.5 L630.2,775.5 L630.7,774.6 L631.2,773.6 L631.7,772.5 L632.2,771.5 L632.7,770.4 L633.2,769.3 L633.7,768.2 L634.2,767.0 L634.7,765.9 L635.2,764.7 L635.7,763.4 L636.2,762.2 L636.7,760.9 L637.2,759.5 L637.7,758.2 L638.2,756.8 L638.7,755.4 L639.2,754.0 L639.7,752.5 L640.2,751.1 L640.7,749.6 L641.2,748.0 L641.7,746.5 L642.2,745.0 L642.7,743.4 L643.2,741.9 L643.7,740.4 L644.2,738.9 L644.7,737.5 L645.2,736.0 L645.7,734.7 L646.2,733.4 L646.7,732.2 L647.2,731.2 L647.7,730.3 L648.2,729.4 L648.7,728.6 L649.2,727.9 L649.7,727.3 L650.2,726.7 L650.7,726.3 L651.2,726.1 L651.7,726.0 L652.2,726.1 L652.7,726.5 L653.2,727.0 L653.7,727.8 L654.2,728.7 L654.7,729.7 L655.2,730.9 L655.7,732.2 L656.2,733.7 L656.7,735.3 L657.2,737.2 L657.7,739.1 L658.2,741.1 L658.7,743.2 L659.2,745.3 L659.7,747.4 L660.2,749.6 L660.7,751.9 L661.2,754.2 L661.7,756.6 L662.2,759.1 L662.7,761.6 L663.2,764.2 L663.7,766.7 L664.2,769.2 L664.7,771.8 L665.2,774.3 L665.7,776.8 L666.2,779.3 L666.7,781.7 L667.2,784.2 L667.7,786.6 L668.2,788.9 L668.7,791.3 L669.2,793.5 L669.7,795.8 L670.2,797.9 L670.7,799.9 L671.2,801.9 L671.7,803.6 L672.2,805.2 L672.7,806.6 L673.2,807.9 L673.7,809.0 L674.2,810.0 L674.7,810.8 L675.2,811.5 L675.7,812.1 L676.2,812.6 L676.7,813.0 L677.2,813.4 L677.7,813.7 L678.2,814.0 L678.7,814.3 L679.2,814.5 L679.7,814.6 L680.2,814.7 L680.7,814.8 L681.2,814.8 L681.7,814.8 L682.2,814.8 L682.7,814.8 L683.2,814.8 L683.7,814.8 L684.2,814.8 L684.7,814.8 L685.2,814.8 L685.7,814.8 L686.2,814.8 L686.7,814.8 L687.2,814.8 L687.7,814.8 L688.2,814.8 L688.7,814.8 L689.2,814.8 L689.7,814.8 L690.2,814.8 L690.7,814.8 L691.2,814.8 L691.7,814.8 L692.2,814.8 L692.7,814.8 L693.2,814.8 L693.7,814.8 L694.2,814.8 L694.7,814.8 L695.2,814.8 L695.7,814.7 L696.2,814.7 L696.7,814.7 L697.2,814.6 L697.7,814.4 L698.2,814.1 L698.7,813.7 L699.2,813.2 L699.7,812.6 L700.2,811.9 L700.7,811.1 L701.2,810.2 L701.7,809.3 L702.2,808.2 L702.7,806.9 L703.2,805.6 L703.7,804.0 L704.2,802.2 L704.7,800.2 L705.2,797.8 L705.7,795.1 L706.2,791.9 L706.7,788.5 L707.2,784.8 L707.7,780.8 L708.2,776.7 L708.7,772.4 L709.2,767.8 L709.7,763.1 L710.2,758.1 L710.7,752.8 L711.2,747.3 L711.7,741.6 L712.2,735.6 L712.7,729.5 L713.2,723.2 L713.7,716.7 L714.2,710.3 L714.7,703.9 L715.2,697.6 L715.7,691.5 L716.2,685.6 L716.7,680.0 L717.2,674.7 L717.7,669.7 L718.2,664.9 L718.7,660.4 L719.2,656.0 L719.7,652.0 L720.2,648.1 L720.7,644.5 L721.2,641.2 L721.7,638.2 L722.2,635.4 L722.7,632.9 L723.2,630.5 L723.7,628.3 L724.2,626.5 L724.7,625.0 L725.2,624.1 L725.7,623.8 L726.2,624.2 L726.7,625.1 L727.2,626.7 L727.7,628.7 L728.2,631.0 L728.7,633.5 L729.2,636.1 L729.7,638.7 L730.2,641.4 L730.7,644.2 L731.2,647.0 L731.7,650.0 L732.2,653.0 L732.7,656.1 L733.2,659.3 L733.7,662.5 L734.2,665.9 L734.7,669.3 L735.2,672.8 L735.7,676.3 L736.2,679.9 L736.7,683.5 L737.2,687.2 L737.7,690.9 L738.2,694.6 L738.7,698.3 L739.2,701.9 L739.7,705.4 L740.2,708.7 L740.7,712.0 L741.2,715.1 L741.7,718.2 L742.2,721.1 L742.7,723.9 L743.2,726.5 L743.7,729.0 L744.2,731.4 L744.7,733.6 L745.2,735.7 L745.7,737.7 L746.2,739.6 L746.7,741.5 L747.2,743.3 L747.7,745.1 L748.2,746.9 L748.7,748.6 L749.2,750.5 L749.7,752.3 L750.2,754.2 L750.7,756.0 L751.2,757.9 L751.7,759.8 L752.2,761.6 L752.7,763.4 L753.2,765.1 L753.7,766.8 L754.2,768.4 L754.7,769.9 L755.2,771.4 L755.7,772.9 L756.2,774.3 L756.7,775.7 L757.2,777.1 L757.7,778.4 L758.2,779.7 L758.7,781.0 L759.2,782.3 L759.7,783.5 L760.2,784.7 L760.7,785.8 L761.2,786.9 L761.7,787.8 L762.2,788.7 L762.7,789.6 L763.2,790.5 L763.7,791.3 L764.2,792.1 L764.7,793.0 L765.2,793.8 L765.7,794.6 L766.2,795.4 L766.7,796.2 L767.2,797.0 L767.7,797.7 L768.2,798.3 L768.7,798.9 L769.2,799.5 L769.7,800.1 L770.2,800.7 L770.7,801.2 L771.2,801.7 L771.7,802.2 L772.2,802.6 L772.7,803.1 L773.2,803.5 L773.7,803.9 L774.2,804.3 L774.7,804.7 L775.2,805.0 L775.7,805.3 L776.2,805.6 L776.7,805.9 L777.2,806.2 L777.7,806.5 L778.2,806.7 L778.7,807.0 L779.2,807.2 L779.7,807.5 L780.2,807.7 L780.7,807.9 L781.2,808.1 L781.7,808.3 L782.2,808.5 L782.7,808.7 L783.2,808.9 L783.7,809.0 L784.2,809.2 L784.7,809.4 L785.2,809.5 L785.7,809.7 L786.2,809.8 L786.7,810.0 L787.2,810.1 L787.7,810.2 L788.2,810.4 L788.7,810.5 L789.2,810.6 L789.7,810.7 L790.2,810.9 L790.7,811.0 L791.2,811.1 L791.7,811.2 L792.2,811.3 L792.7,811.4 L793.2,811.5 L793.7,811.7 L794.2,811.8 L794.7,811.9 L795.2,812.0 L795.7,812.1 L796.2,812.2 L796.7,812.3 L797.2,812.4 L797.7,812.5 L798.2,812.6 L798.7,812.7 L799.2,812.8 L799.7,812.9 L800.2,813.0 L800.7,813.1 L801.2,813.2 L801.7,813.3 L802.2,813.3 L802.7,813.4 L803.2,813.5 L803.7,813.6 L804.2,813.6 L804.7,813.7 L805.2,813.7 L805.7,813.8 L806.2,813.8 L806.7,813.9 L807.2,813.9 L807.7,813.9 L808.2,814.0 L808.7,814.0 L809.2,814.0 L809.7,814.1 L810.2,814.1 L810.7,814.1 L811.2,814.2 L811.7,814.2 L812.2,814.2 L812.7,814.3 L813.2,814.3 L813.7,814.3 L814.2,814.3 L814.7,814.4 L815.2,814.4 L815.7,814.4 L816.2,814.4 L816.7,814.5 L817.2,814.5 L817.7,814.5 L818.2,814.5 L818.7,814.5 L819.2,814.6 L819.7,814.6 L820.2,814.6 L820.7,814.6 L821.2,814.6 L821.7,814.6 L822.2,814.7 L822.7,814.7 L823.2,814.7 L823.7,814.7 L824.2,814.7 L824.7,814.7 L825.2,814.7 L825.7,814.7 L826.2,814.7 L826.7,814.7 L827.2,814.7 L827.7,814.7 L828.2,814.7 L828.7,814.7 L829.2,814.7 L829.7,814.7 L830.2,814.7 L830.7,814.8 L831.2,814.8 L831.7,814.8 L832.2,814.8 L832.7,814.8 L833.2,814.8 L833.7,814.8 L834.2,814.8 L834.7,814.8 L835.2,814.8 L835.7,814.8 L836.2,814.8 L836.7,814.8 L837.2,814.8 L837.7,814.8 L838.2,814.8 L838.7,814.8 L839.2,814.8 L839.7,814.8 L840.2,814.8 L840.7,814.8 L841.2,814.8 L841.7,814.8 L842.2,814.8 L842.6,814.8" fill="none" stroke="#E0742A" stroke-width="7.7" stroke-linejoin="round" stroke-linecap="butt"/>
</g>
<line x1="525.10" y1="579.62" x2="525.10" y2="815.68" stroke="#000" stroke-width="2.15" />
<line x1="524.02" y1="814.60" x2="855.45" y2="814.60" stroke="#000" stroke-width="2.15" />
<line x1="539.85" y1="814.60" x2="539.85" y2="828.10" stroke="#000" stroke-width="2.15" />
<text transform="translate(539.85,854.00) scale(1,1.02)" font-size="29.0" text-anchor="middle" >2.5</text>
<line x1="614.88" y1="814.60" x2="614.88" y2="828.10" stroke="#000" stroke-width="2.15" />
<text transform="translate(614.88,854.00) scale(1,1.02)" font-size="29.0" text-anchor="middle" >1.25</text>
<line x1="689.90" y1="814.60" x2="689.90" y2="828.10" stroke="#000" stroke-width="2.15" />
<text transform="translate(689.90,854.00) scale(1,1.02)" font-size="29.0" text-anchor="middle" >0</text>
<line x1="764.92" y1="814.60" x2="764.92" y2="828.10" stroke="#000" stroke-width="2.15" />
<text transform="translate(764.92,854.00) scale(1,1.02)" font-size="29.0" text-anchor="middle" >1.25</text>
<line x1="839.95" y1="814.60" x2="839.95" y2="828.10" stroke="#000" stroke-width="2.15" />
<text transform="translate(839.95,854.00) scale(1,1.02)" font-size="29.0" text-anchor="middle" >2.5</text>
<line x1="511.30" y1="814.60" x2="525.10" y2="814.60" stroke="#000" stroke-width="2.15" />
<text transform="translate(506.00,825.00) scale(1,1.02)" font-size="29.0" text-anchor="end" >0.0</text>
<line x1="511.30" y1="736.63" x2="525.10" y2="736.63" stroke="#000" stroke-width="2.15" />
<text transform="translate(506.00,747.00) scale(1,1.02)" font-size="29.0" text-anchor="end" >0.5</text>
<line x1="511.30" y1="658.67" x2="525.10" y2="658.67" stroke="#000" stroke-width="2.15" />
<text transform="translate(506.00,669.00) scale(1,1.02)" font-size="29.0" text-anchor="end" >1.0</text>
<line x1="511.30" y1="580.70" x2="525.10" y2="580.70" stroke="#000" stroke-width="2.15" />
<text transform="translate(506.00,591.00) scale(1,1.02)" font-size="29.0" text-anchor="end" >1.5</text>
<text transform="translate(525.74,576.00) scale(1,1.02)" font-size="28.3" textLength="55.78" lengthAdjust="spacing">1e-2</text>
<text x="630.28" y="570.00" font-size="33.4" textLength="118.90" lengthAdjust="spacing">coh: 6.4</text>
<path d="M679.05,862.40 L584.75,862.40 L584.75,853.80 L542.80,865.15 L584.75,876.50 L584.75,867.90 L679.05,867.90 Z" fill="#929292"/>
<path d="M703.00,862.40 L796.70,862.40 L796.70,853.80 L838.90,865.15 L796.70,876.50 L796.70,867.90 L703.00,867.90 Z" fill="#929292"/>
<text x="592.68" y="888.00" font-size="20.8" textLength="80.27" lengthAdjust="spacing">Incorrect</text>
<text x="730.44" y="888.00" font-size="20.8" textLength="68.01" lengthAdjust="spacing">Correct</text>
<text x="554.16" y="926.00" font-size="33.4" textLength="272.81" lengthAdjust="spacing">Reaction times (s)</text>
</g>
</g>
<text transform="translate(43.90,374.00) rotate(-90)" x="-2.74" y="0" font-size="33.4" textLength="156.91" lengthAdjust="spacing">Probability</text>
<g stroke="none">
<path d="M1057.4,645.4a3,3 0 1,0 6,0a3,3 0 1,0 -6,0M1057.4,648.7a3,3 0 1,0 6,0a3,3 0 1,0 -6,0M1057.4,652.1a3,3 0 1,0 6,0a3,3 0 1,0 -6,0M1057.4,655.4a3,3 0 1,0 6,0a3,3 0 1,0 -6,0M1057.4,658.8a3,3 0 1,0 6,0a3,3 0 1,0 -6,0M1057.4,662.2a3,3 0 1,0 6,0a3,3 0 1,0 -6,0M1057.4,665.5a3,3 0 1,0 6,0a3,3 0 1,0 -6,0M1057.4,668.9a3,3 0 1,0 6,0a3,3 0 1,0 -6,0M1057.4,672.2a3,3 0 1,0 6,0a3,3 0 1,0 -6,0M1057.4,675.6a3,3 0 1,0 6,0a3,3 0 1,0 -6,0M1057.4,678.9a3,3 0 1,0 6,0a3,3 0 1,0 -6,0M1057.4,682.3a3,3 0 1,0 6,0a3,3 0 1,0 -6,0M1057.4,685.6a3,3 0 1,0 6,0a3,3 0 1,0 -6,0M1057.4,689.0a3,3 0 1,0 6,0a3,3 0 1,0 -6,0M1067.8,627.6a3,3 0 1,0 6,0a3,3 0 1,0 -6,0M1067.8,630.8a3,3 0 1,0 6,0a3,3 0 1,0 -6,0M1067.8,634.1a3,3 0 1,0 6,0a3,3 0 1,0 -6,0M1067.8,637.4a3,3 0 1,0 6,0a3,3 0 1,0 -6,0M1067.8,640.6a3,3 0 1,0 6,0a3,3 0 1,0 -6,0M1067.8,643.9a3,3 0 1,0 6,0a3,3 0 1,0 -6,0M1067.8,647.1a3,3 0 1,0 6,0a3,3 0 1,0 -6,0M1067.8,650.4a3,3 0 1,0 6,0a3,3 0 1,0 -6,0M1067.8,653.7a3,3 0 1,0 6,0a3,3 0 1,0 -6,0M1067.8,656.9a3,3 0 1,0 6,0a3,3 0 1,0 -6,0M1067.8,660.2a3,3 0 1,0 6,0a3,3 0 1,0 -6,0M1067.8,663.5a3,3 0 1,0 6,0a3,3 0 1,0 -6,0M1067.8,676.2a3,3 0 1,0 6,0a3,3 0 1,0 -6,0M1067.8,679.4a3,3 0 1,0 6,0a3,3 0 1,0 -6,0M1067.8,682.6a3,3 0 1,0 6,0a3,3 0 1,0 -6,0M1067.8,685.8a3,3 0 1,0 6,0a3,3 0 1,0 -6,0M1067.8,689.0a3,3 0 1,0 6,0a3,3 0 1,0 -6,0M1078.1,606.9a3,3 0 1,0 6,0a3,3 0 1,0 -6,0M1078.1,611.4a3,3 0 1,0 6,0a3,3 0 1,0 -6,0M1078.1,626.1a3,3 0 1,0 6,0a3,3 0 1,0 -6,0M1078.1,629.4a3,3 0 1,0 6,0a3,3 0 1,0 -6,0M1078.1,632.7a3,3 0 1,0 6,0a3,3 0 1,0 -6,0M1078.1,636.0a3,3 0 1,0 6,0a3,3 0 1,0 -6,0M1078.1,639.4a3,3 0 1,0 6,0a3,3 0 1,0 -6,0M1078.1,642.7a3,3 0 1,0 6,0a3,3 0 1,0 -6,0M1078.1,646.0a3,3 0 1,0 6,0a3,3 0 1,0 -6,0M1078.1,649.3a3,3 0 1,0 6,0a3,3 0 1,0 -6,0M1078.1,652.6a3,3 0 1,0 6,0a3,3 0 1,0 -6,0M1078.1,655.9a3,3 0 1,0 6,0a3,3 0 1,0 -6,0M1078.1,659.2a3,3 0 1,0 6,0a3,3 0 1,0 -6,0M1078.1,662.5a3,3 0 1,0 6,0a3,3 0 1,0 -6,0M1078.1,665.8a3,3 0 1,0 6,0a3,3 0 1,0 -6,0M1078.1,669.1a3,3 0 1,0 6,0a3,3 0 1,0 -6,0M1078.1,672.4a3,3 0 1,0 6,0a3,3 0 1,0 -6,0M1078.1,675.8a3,3 0 1,0 6,0a3,3 0 1,0 -6,0M1078.1,679.1a3,3 0 1,0 6,0a3,3 0 1,0 -6,0M1078.1,682.4a3,3 0 1,0 6,0a3,3 0 1,0 -6,0M1078.1,685.7a3,3 0 1,0 6,0a3,3 0 1,0 -6,0M1078.1,689.0a3,3 0 1,0 6,0a3,3 0 1,0 -6,0M1088.4,603.0a3,3 0 1,0 6,0a3,3 0 1,0 -6,0M1088.4,606.3a3,3 0 1,0 6,0a3,3 0 1,0 -6,0M1088.4,609.5a3,3 0 1,0 6,0a3,3 0 1,0 -6,0M1088.4,612.8a3,3 0 1,0 6,0a3,3 0 1,0 -6,0M1088.4,616.0a3,3 0 1,0 6,0a3,3 0 1,0 -6,0M1088.4,619.3a3,3 0 1,0 6,0a3,3 0 1,0 -6,0M1088.4,622.5a3,3 0 1,0 6,0a3,3 0 1,0 -6,0M1088.4,625.8a3,3 0 1,0 6,0a3,3 0 1,0 -6,0M1088.4,629.1a3,3 0 1,0 6,0a3,3 0 1,0 -6,0M1088.4,632.3a3,3 0 1,0 6,0a3,3 0 1,0 -6,0M1088.4,635.6a3,3 0 1,0 6,0a3,3 0 1,0 -6,0M1088.4,638.8a3,3 0 1,0 6,0a3,3 0 1,0 -6,0M1088.4,642.1a3,3 0 1,0 6,0a3,3 0 1,0 -6,0M1088.4,645.3a3,3 0 1,0 6,0a3,3 0 1,0 -6,0M1088.4,648.6a3,3 0 1,0 6,0a3,3 0 1,0 -6,0M1088.4,651.9a3,3 0 1,0 6,0a3,3 0 1,0 -6,0M1088.4,655.1a3,3 0 1,0 6,0a3,3 0 1,0 -6,0M1088.4,658.4a3,3 0 1,0 6,0a3,3 0 1,0 -6,0M1088.4,661.6a3,3 0 1,0 6,0a3,3 0 1,0 -6,0M1088.4,664.9a3,3 0 1,0 6,0a3,3 0 1,0 -6,0M1088.4,668.1a3,3 0 1,0 6,0a3,3 0 1,0 -6,0M1088.4,671.4a3,3 0 1,0 6,0a3,3 0 1,0 -6,0M1088.4,674.7a3,3 0 1,0 6,0a3,3 0 1,0 -6,0M1088.4,677.9a3,3 0 1,0 6,0a3,3 0 1,0 -6,0M1109.1,603.0a3,3 0 1,0 6,0a3,3 0 1,0 -6,0M1109.1,606.2a3,3 0 1,0 6,0a3,3 0 1,0 -6,0M1109.1,609.3a3,3 0 1,0 6,0a3,3 0 1,0 -6,0M1109.1,612.5a3,3 0 1,0 6,0a3,3 0 1,0 -6,0M1109.1,615.7a3,3 0 1,0 6,0a3,3 0 1,0 -6,0M1109.1,618.9a3,3 0 1,0 6,0a3,3 0 1,0 -6,0M1109.1,622.0a3,3 0 1,0 6,0a3,3 0 1,0 -6,0M1109.1,642.5a3,3 0 1,0 6,0a3,3 0 1,0 -6,0M1109.1,647.1a3,3 0 1,0 6,0a3,3 0 1,0 -6,0M1098.7,657.9a3,3 0 1,0 6,0a3,3 0 1,0 -6,0M1098.7,661.5a3,3 0 1,0 6,0a3,3 0 1,0 -6,0M1098.7,665.0a3,3 0 1,0 6,0a3,3 0 1,0 -6,0M1098.7,668.6a3,3 0 1,0 6,0a3,3 0 1,0 -6,0M1098.7,672.1a3,3 0 1,0 6,0a3,3 0 1,0 -6,0M1119.4,632.9a3,3 0 1,0 6,0a3,3 0 1,0 -6,0M1119.4,636.3a3,3 0 1,0 6,0a3,3 0 1,0 -6,0M1119.4,639.7a3,3 0 1,0 6,0a3,3 0 1,0 -6,0M1119.4,643.0a3,3 0 1,0 6,0a3,3 0 1,0 -6,0M1119.4,646.4a3,3 0 1,0 6,0a3,3 0 1,0 -6,0M1119.4,649.8a3,3 0 1,0 6,0a3,3 0 1,0 -6,0M1119.4,653.2a3,3 0 1,0 6,0a3,3 0 1,0 -6,0M1119.4,656.6a3,3 0 1,0 6,0a3,3 0 1,0 -6,0M1119.4,660.0a3,3 0 1,0 6,0a3,3 0 1,0 -6,0M1119.4,663.4a3,3 0 1,0 6,0a3,3 0 1,0 -6,0M1119.4,666.8a3,3 0 1,0 6,0a3,3 0 1,0 -6,0M1119.4,670.2a3,3 0 1,0 6,0a3,3 0 1,0 -6,0M1129.7,606.9a3,3 0 1,0 6,0a3,3 0 1,0 -6,0M1129.7,609.9a3,3 0 1,0 6,0a3,3 0 1,0 -6,0M1129.7,612.9a3,3 0 1,0 6,0a3,3 0 1,0 -6,0M1129.7,616.0a3,3 0 1,0 6,0a3,3 0 1,0 -6,0M1129.7,619.0a3,3 0 1,0 6,0a3,3 0 1,0 -6,0M1129.7,622.0a3,3 0 1,0 6,0a3,3 0 1,0 -6,0M1129.7,637.7a3,3 0 1,0 6,0a3,3 0 1,0 -6,0M1129.7,641.5a3,3 0 1,0 6,0a3,3 0 1,0 -6,0M1129.7,645.2a3,3 0 1,0 6,0a3,3 0 1,0 -6,0M1129.7,649.0a3,3 0 1,0 6,0a3,3 0 1,0 -6,0M1181.2,646.3a3,3 0 1,0 6,0a3,3 0 1,0 -6,0M1181.2,649.5a3,3 0 1,0 6,0a3,3 0 1,0 -6,0M1181.2,652.6a3,3 0 1,0 6,0a3,3 0 1,0 -6,0M1181.2,655.8a3,3 0 1,0 6,0a3,3 0 1,0 -6,0M1057.4,683.0a3,3 0 1,0 6,0a3,3 0 1,0 -6,0M1057.4,686.4a3,3 0 1,0 6,0a3,3 0 1,0 -6,0M1057.4,689.8a3,3 0 1,0 6,0a3,3 0 1,0 -6,0M1057.4,693.2a3,3 0 1,0 6,0a3,3 0 1,0 -6,0M1057.4,696.6a3,3 0 1,0 6,0a3,3 0 1,0 -6,0M1057.4,700.0a3,3 0 1,0 6,0a3,3 0 1,0 -6,0M1057.4,703.4a3,3 0 1,0 6,0a3,3 0 1,0 -6,0M1057.4,706.8a3,3 0 1,0 6,0a3,3 0 1,0 -6,0M1057.4,710.2a3,3 0 1,0 6,0a3,3 0 1,0 -6,0M1057.4,713.6a3,3 0 1,0 6,0a3,3 0 1,0 -6,0M1067.8,683.0a3,3 0 1,0 6,0a3,3 0 1,0 -6,0M1067.8,686.2a3,3 0 1,0 6,0a3,3 0 1,0 -6,0M1067.8,689.4a3,3 0 1,0 6,0a3,3 0 1,0 -6,0M1067.8,692.6a3,3 0 1,0 6,0a3,3 0 1,0 -6,0M1067.8,695.8a3,3 0 1,0 6,0a3,3 0 1,0 -6,0M1067.8,699.0a3,3 0 1,0 6,0a3,3 0 1,0 -6,0M1067.8,702.2a3,3 0 1,0 6,0a3,3 0 1,0 -6,0M1067.8,705.3a3,3 0 1,0 6,0a3,3 0 1,0 -6,0M1067.8,708.5a3,3 0 1,0 6,0a3,3 0 1,0 -6,0M1067.8,711.7a3,3 0 1,0 6,0a3,3 0 1,0 -6,0M1067.8,714.9a3,3 0 1,0 6,0a3,3 0 1,0 -6,0M1067.8,718.1a3,3 0 1,0 6,0a3,3 0 1,0 -6,0M1067.8,721.3a3,3 0 1,0 6,0a3,3 0 1,0 -6,0M1078.1,683.0a3,3 0 1,0 6,0a3,3 0 1,0 -6,0M1078.1,685.7a3,3 0 1,0 6,0a3,3 0 1,0 -6,0M1078.1,692.6a3,3 0 1,0 6,0a3,3 0 1,0 -6,0M1078.1,695.9a3,3 0 1,0 6,0a3,3 0 1,0 -6,0M1078.1,699.3a3,3 0 1,0 6,0a3,3 0 1,0 -6,0M1078.1,702.6a3,3 0 1,0 6,0a3,3 0 1,0 -6,0M1078.1,705.9a3,3 0 1,0 6,0a3,3 0 1,0 -6,0M1088.4,690.7a3,3 0 1,0 6,0a3,3 0 1,0 -6,0M1088.4,694.5a3,3 0 1,0 6,0a3,3 0 1,0 -6,0M1088.4,698.3a3,3 0 1,0 6,0a3,3 0 1,0 -6,0M1088.4,702.0a3,3 0 1,0 6,0a3,3 0 1,0 -6,0M1057.4,636.1a3,3 0 1,0 6,0a3,3 0 1,0 -6,0M1073.8,677.1a3,3 0 1,0 6,0a3,3 0 1,0 -6,0M1073.8,683.8a3,3 0 1,0 6,0a3,3 0 1,0 -6,0M1084.4,608.7a3,3 0 1,0 6,0a3,3 0 1,0 -6,0M1084.4,617.3a3,3 0 1,0 6,0a3,3 0 1,0 -6,0M1084.4,628.9a3,3 0 1,0 6,0a3,3 0 1,0 -6,0M1088.4,691.0a3,3 0 1,0 6,0a3,3 0 1,0 -6,0M1092.6,666.5a3,3 0 1,0 6,0a3,3 0 1,0 -6,0M1098.7,610.6a3,3 0 1,0 6,0a3,3 0 1,0 -6,0M1094.5,617.8a3,3 0 1,0 6,0a3,3 0 1,0 -6,0M1103.6,615.4a3,3 0 1,0 6,0a3,3 0 1,0 -6,0M1098.7,623.1a3,3 0 1,0 6,0a3,3 0 1,0 -6,0M1098.7,628.4a3,3 0 1,0 6,0a3,3 0 1,0 -6,0M1098.7,633.2a3,3 0 1,0 6,0a3,3 0 1,0 -6,0M1094.5,654.9a3,3 0 1,0 6,0a3,3 0 1,0 -6,0M1099.8,652.0a3,3 0 1,0 6,0a3,3 0 1,0 -6,0M1098.7,678.0a3,3 0 1,0 6,0a3,3 0 1,0 -6,0M1109.1,628.9a3,3 0 1,0 6,0a3,3 0 1,0 -6,0M1109.1,632.8a3,3 0 1,0 6,0a3,3 0 1,0 -6,0M1104.6,658.8a3,3 0 1,0 6,0a3,3 0 1,0 -6,0M1108.5,661.6a3,3 0 1,0 6,0a3,3 0 1,0 -6,0M1109.4,667.4a3,3 0 1,0 6,0a3,3 0 1,0 -6,0M1109.4,670.3a3,3 0 1,0 6,0a3,3 0 1,0 -6,0M1109.1,684.8a3,3 0 1,0 6,0a3,3 0 1,0 -6,0M1119.4,604.8a3,3 0 1,0 6,0a3,3 0 1,0 -6,0M1119.4,608.7a3,3 0 1,0 6,0a3,3 0 1,0 -6,0M1117.1,624.1a3,3 0 1,0 6,0a3,3 0 1,0 -6,0M1119.4,677.1a3,3 0 1,0 6,0a3,3 0 1,0 -6,0M1119.4,680.0a3,3 0 1,0 6,0a3,3 0 1,0 -6,0M1124.4,624.6a3,3 0 1,0 6,0a3,3 0 1,0 -6,0M1124.8,645.3a3,3 0 1,0 6,0a3,3 0 1,0 -6,0M1124.8,651.1a3,3 0 1,0 6,0a3,3 0 1,0 -6,0M1129.7,656.8a3,3 0 1,0 6,0a3,3 0 1,0 -6,0M1129.7,660.7a3,3 0 1,0 6,0a3,3 0 1,0 -6,0M1129.7,676.6a3,3 0 1,0 6,0a3,3 0 1,0 -6,0M1129.7,682.8a3,3 0 1,0 6,0a3,3 0 1,0 -6,0M1136.9,622.2a3,3 0 1,0 6,0a3,3 0 1,0 -6,0M1140.0,637.1a3,3 0 1,0 6,0a3,3 0 1,0 -6,0M1140.0,642.4a3,3 0 1,0 6,0a3,3 0 1,0 -6,0M1140.0,644.3a3,3 0 1,0 6,0a3,3 0 1,0 -6,0M1140.0,652.0a3,3 0 1,0 6,0a3,3 0 1,0 -6,0M1140.0,665.5a3,3 0 1,0 6,0a3,3 0 1,0 -6,0M1140.0,671.8a3,3 0 1,0 6,0a3,3 0 1,0 -6,0M1150.4,607.2a3,3 0 1,0 6,0a3,3 0 1,0 -6,0M1150.4,614.4a3,3 0 1,0 6,0a3,3 0 1,0 -6,0M1150.4,631.8a3,3 0 1,0 6,0a3,3 0 1,0 -6,0M1150.4,634.7a3,3 0 1,0 6,0a3,3 0 1,0 -6,0M1150.4,647.2a3,3 0 1,0 6,0a3,3 0 1,0 -6,0M1154.7,648.2a3,3 0 1,0 6,0a3,3 0 1,0 -6,0M1150.4,652.5a3,3 0 1,0 6,0a3,3 0 1,0 -6,0M1150.4,657.8a3,3 0 1,0 6,0a3,3 0 1,0 -6,0M1150.4,662.6a3,3 0 1,0 6,0a3,3 0 1,0 -6,0M1155.7,662.6a3,3 0 1,0 6,0a3,3 0 1,0 -6,0M1160.7,607.2a3,3 0 1,0 6,0a3,3 0 1,0 -6,0M1165.3,607.7a3,3 0 1,0 6,0a3,3 0 1,0 -6,0M1170.1,608.2a3,3 0 1,0 6,0a3,3 0 1,0 -6,0M1162.4,627.0a3,3 0 1,0 6,0a3,3 0 1,0 -6,0M1160.7,631.8a3,3 0 1,0 6,0a3,3 0 1,0 -6,0M1160.7,636.6a3,3 0 1,0 6,0a3,3 0 1,0 -6,0M1154.7,633.7a3,3 0 1,0 6,0a3,3 0 1,0 -6,0M1160.7,649.6a3,3 0 1,0 6,0a3,3 0 1,0 -6,0M1160.7,675.6a3,3 0 1,0 6,0a3,3 0 1,0 -6,0M1160.7,684.3a3,3 0 1,0 6,0a3,3 0 1,0 -6,0M1171.6,633.2a3,3 0 1,0 6,0a3,3 0 1,0 -6,0M1168.7,640.0a3,3 0 1,0 6,0a3,3 0 1,0 -6,0M1169.0,656.8a3,3 0 1,0 6,0a3,3 0 1,0 -6,0M1181.2,603.9a3,3 0 1,0 6,0a3,3 0 1,0 -6,0M1181.2,620.7a3,3 0 1,0 6,0a3,3 0 1,0 -6,0M1181.2,637.1a3,3 0 1,0 6,0a3,3 0 1,0 -6,0M1181.2,671.3a3,3 0 1,0 6,0a3,3 0 1,0 -6,0M1183.6,673.2a3,3 0 1,0 6,0a3,3 0 1,0 -6,0M1188.4,623.6a3,3 0 1,0 6,0a3,3 0 1,0 -6,0M1194.7,643.3a3,3 0 1,0 6,0a3,3 0 1,0 -6,0M1197.1,649.1a3,3 0 1,0 6,0a3,3 0 1,0 -6,0M1186.5,661.2a3,3 0 1,0 6,0a3,3 0 1,0 -6,0M1191.8,660.7a3,3 0 1,0 6,0a3,3 0 1,0 -6,0M1195.2,661.6a3,3 0 1,0 6,0a3,3 0 1,0 -6,0M1190.8,668.9a3,3 0 1,0 6,0a3,3 0 1,0 -6,0M1194.7,671.3a3,3 0 1,0 6,0a3,3 0 1,0 -6,0M1200.0,646.2a3,3 0 1,0 6,0a3,3 0 1,0 -6,0M1200.9,655.4a3,3 0 1,0 6,0a3,3 0 1,0 -6,0M1200.0,666.5a3,3 0 1,0 6,0a3,3 0 1,0 -6,0M1057.4,724.3a3,3 0 1,0 6,0a3,3 0 1,0 -6,0M1088.4,681.4a3,3 0 1,0 6,0a3,3 0 1,0 -6,0M1092.6,704.1a3,3 0 1,0 6,0a3,3 0 1,0 -6,0M1098.7,698.3a3,3 0 1,0 6,0a3,3 0 1,0 -6,0M1098.7,700.7a3,3 0 1,0 6,0a3,3 0 1,0 -6,0M1098.7,717.6a3,3 0 1,0 6,0a3,3 0 1,0 -6,0M1119.4,694.9a3,3 0 1,0 6,0a3,3 0 1,0 -6,0M1119.4,700.7a3,3 0 1,0 6,0a3,3 0 1,0 -6,0M1119.4,724.8a3,3 0 1,0 6,0a3,3 0 1,0 -6,0M1140.0,706.0a3,3 0 1,0 6,0a3,3 0 1,0 -6,0M1140.0,712.3a3,3 0 1,0 6,0a3,3 0 1,0 -6,0M1148.2,699.6a3,3 0 1,0 6,0a3,3 0 1,0 -6,0M1181.2,698.5a3,3 0 1,0 6,0a3,3 0 1,0 -6,0M1078.2,550.1a3,3 0 1,0 6,0a3,3 0 1,0 -6,0M1078.2,564.1a3,3 0 1,0 6,0a3,3 0 1,0 -6,0M1078.2,582.3a3,3 0 1,0 6,0a3,3 0 1,0 -6,0M1088.5,570.3a3,3 0 1,0 6,0a3,3 0 1,0 -6,0M1088.5,594.5a3,3 0 1,0 6,0a3,3 0 1,0 -6,0M1098.7,568.4a3,3 0 1,0 6,0a3,3 0 1,0 -6,0M1098.1,589.6a3,3 0 1,0 6,0a3,3 0 1,0 -6,0M1098.7,597.4a3,3 0 1,0 6,0a3,3 0 1,0 -6,0M1100.8,556.4a3,3 0 1,0 6,0a3,3 0 1,0 -6,0M1109.1,583.3a3,3 0 1,0 6,0a3,3 0 1,0 -6,0M1109.1,595.9a3,3 0 1,0 6,0a3,3 0 1,0 -6,0M1109.1,601.0a3,3 0 1,0 6,0a3,3 0 1,0 -6,0M1119.3,545.8a3,3 0 1,0 6,0a3,3 0 1,0 -6,0M1119.3,584.9a3,3 0 1,0 6,0a3,3 0 1,0 -6,0M1119.3,598.5a3,3 0 1,0 6,0a3,3 0 1,0 -6,0M1129.6,542.6a3,3 0 1,0 6,0a3,3 0 1,0 -6,0M1129.6,565.1a3,3 0 1,0 6,0a3,3 0 1,0 -6,0M1129.6,576.2a3,3 0 1,0 6,0a3,3 0 1,0 -6,0M1129.6,580.4a3,3 0 1,0 6,0a3,3 0 1,0 -6,0M1129.6,598.2a3,3 0 1,0 6,0a3,3 0 1,0 -6,0M1126.5,593.9a3,3 0 1,0 6,0a3,3 0 1,0 -6,0M1140.1,538.3a3,3 0 1,0 6,0a3,3 0 1,0 -6,0M1140.1,546.8a3,3 0 1,0 6,0a3,3 0 1,0 -6,0M1140.1,578.4a3,3 0 1,0 6,0a3,3 0 1,0 -6,0M1141.0,584.1a3,3 0 1,0 6,0a3,3 0 1,0 -6,0M1150.4,568.4a3,3 0 1,0 6,0a3,3 0 1,0 -6,0M1150.4,575.5a3,3 0 1,0 6,0a3,3 0 1,0 -6,0M1147.9,576.0a3,3 0 1,0 6,0a3,3 0 1,0 -6,0M1150.4,580.6a3,3 0 1,0 6,0a3,3 0 1,0 -6,0M1150.4,584.9a3,3 0 1,0 6,0a3,3 0 1,0 -6,0M1150.4,591.6a3,3 0 1,0 6,0a3,3 0 1,0 -6,0M1150.4,593.5a3,3 0 1,0 6,0a3,3 0 1,0 -6,0M1160.7,546.8a3,3 0 1,0 6,0a3,3 0 1,0 -6,0M1160.7,551.7a3,3 0 1,0 6,0a3,3 0 1,0 -6,0M1160.7,583.9a3,3 0 1,0 6,0a3,3 0 1,0 -6,0M1160.7,592.2a3,3 0 1,0 6,0a3,3 0 1,0 -6,0M1159.7,596.7a3,3 0 1,0 6,0a3,3 0 1,0 -6,0M1171.0,560.5a3,3 0 1,0 6,0a3,3 0 1,0 -6,0M1171.0,593.1a3,3 0 1,0 6,0a3,3 0 1,0 -6,0M1173.1,570.0a3,3 0 1,0 6,0a3,3 0 1,0 -6,0M1156.6,535.8a3,3 0 1,0 6,0a3,3 0 1,0 -6,0M1181.3,536.1a3,3 0 1,0 6,0a3,3 0 1,0 -6,0M1181.3,549.0a3,3 0 1,0 6,0a3,3 0 1,0 -6,0M1179.4,559.2a3,3 0 1,0 6,0a3,3 0 1,0 -6,0M1191.5,546.3a3,3 0 1,0 6,0a3,3 0 1,0 -6,0M1199.8,540.4a3,3 0 1,0 6,0a3,3 0 1,0 -6,0M1201.9,545.9a3,3 0 1,0 6,0a3,3 0 1,0 -6,0M1232.8,534.3a3,3 0 1,0 6,0a3,3 0 1,0 -6,0M1232.8,530.0a3,3 0 1,0 6,0a3,3 0 1,0 -6,0M1303.1,532.4a3,3 0 1,0 6,0a3,3 0 1,0 -6,0M1212.1,569.9a3,3 0 1,0 6,0a3,3 0 1,0 -6,0M1222.4,564.7a3,3 0 1,0 6,0a3,3 0 1,0 -6,0M1227.7,562.4a3,3 0 1,0 6,0a3,3 0 1,0 -6,0M1222.4,570.5a3,3 0 1,0 6,0a3,3 0 1,0 -6,0M1224.5,575.4a3,3 0 1,0 6,0a3,3 0 1,0 -6,0M1253.4,569.3a3,3 0 1,0 6,0a3,3 0 1,0 -6,0M1212.1,591.3a3,3 0 1,0 6,0a3,3 0 1,0 -6,0M1261.7,588.8a3,3 0 1,0 6,0a3,3 0 1,0 -6,0M1298.8,588.1a3,3 0 1,0 6,0a3,3 0 1,0 -6,0M1291.7,593.0a3,3 0 1,0 6,0a3,3 0 1,0 -6,0M1231.8,599.1a3,3 0 1,0 6,0a3,3 0 1,0 -6,0M1250.4,602.7a3,3 0 1,0 6,0a3,3 0 1,0 -6,0M1221.4,604.6a3,3 0 1,0 6,0a3,3 0 1,0 -6,0M1213.9,604.6a3,3 0 1,0 6,0a3,3 0 1,0 -6,0M1221.6,610.1a3,3 0 1,0 6,0a3,3 0 1,0 -6,0M1235.9,607.2a3,3 0 1,0 6,0a3,3 0 1,0 -6,0M1232.8,611.4a3,3 0 1,0 6,0a3,3 0 1,0 -6,0M1252.5,607.7a3,3 0 1,0 6,0a3,3 0 1,0 -6,0M1247.3,615.9a3,3 0 1,0 6,0a3,3 0 1,0 -6,0M1274.1,607.9a3,3 0 1,0 6,0a3,3 0 1,0 -6,0M1294.7,607.4a3,3 0 1,0 6,0a3,3 0 1,0 -6,0M1305.1,607.4a3,3 0 1,0 6,0a3,3 0 1,0 -6,0M1322.6,616.9a3,3 0 1,0 6,0a3,3 0 1,0 -6,0M1208.0,619.7a3,3 0 1,0 6,0a3,3 0 1,0 -6,0M1212.1,621.0a3,3 0 1,0 6,0a3,3 0 1,0 -6,0M1212.1,623.1a3,3 0 1,0 6,0a3,3 0 1,0 -6,0M1222.2,625.0a3,3 0 1,0 6,0a3,3 0 1,0 -6,0M1220.5,628.2a3,3 0 1,0 6,0a3,3 0 1,0 -6,0M1213.4,630.8a3,3 0 1,0 6,0a3,3 0 1,0 -6,0M1223.6,633.7a3,3 0 1,0 6,0a3,3 0 1,0 -6,0M1222.4,637.6a3,3 0 1,0 6,0a3,3 0 1,0 -6,0M1240.0,630.3a3,3 0 1,0 6,0a3,3 0 1,0 -6,0M1238.8,635.2a3,3 0 1,0 6,0a3,3 0 1,0 -6,0M1242.5,635.8a3,3 0 1,0 6,0a3,3 0 1,0 -6,0M1254.5,634.2a3,3 0 1,0 6,0a3,3 0 1,0 -6,0M1267.9,626.2a3,3 0 1,0 6,0a3,3 0 1,0 -6,0M1215.3,643.9a3,3 0 1,0 6,0a3,3 0 1,0 -6,0M1264.8,644.0a3,3 0 1,0 6,0a3,3 0 1,0 -6,0M1281.3,644.4a3,3 0 1,0 6,0a3,3 0 1,0 -6,0M1222.4,651.2a3,3 0 1,0 6,0a3,3 0 1,0 -6,0M1212.1,655.7a3,3 0 1,0 6,0a3,3 0 1,0 -6,0M1211.2,657.6a3,3 0 1,0 6,0a3,3 0 1,0 -6,0M1212.1,665.5a3,3 0 1,0 6,0a3,3 0 1,0 -6,0M1212.1,671.6a3,3 0 1,0 6,0a3,3 0 1,0 -6,0M1232.8,668.6a3,3 0 1,0 6,0a3,3 0 1,0 -6,0M1284.4,666.8a3,3 0 1,0 6,0a3,3 0 1,0 -6,0M1281.2,670.8a3,3 0 1,0 6,0a3,3 0 1,0 -6,0M1306.0,669.5a3,3 0 1,0 6,0a3,3 0 1,0 -6,0M1212.1,682.6a3,3 0 1,0 6,0a3,3 0 1,0 -6,0M1337.1,690.5a3,3 0 1,0 6,0a3,3 0 1,0 -6,0M1374.0,674.4a3,3 0 1,0 6,0a3,3 0 1,0 -6,0M1408.2,669.7a3,3 0 1,0 6,0a3,3 0 1,0 -6,0M1415.5,689.0a3,3 0 1,0 6,0a3,3 0 1,0 -6,0M1268.8,260.7a3,3 0 1,0 6,0a3,3 0 1,0 -6,0M1181.2,346.7a3,3 0 1,0 6,0a3,3 0 1,0 -6,0M1280.1,347.8a3,3 0 1,0 6,0a3,3 0 1,0 -6,0M1140.0,369.3a3,3 0 1,0 6,0a3,3 0 1,0 -6,0M1253.4,380.3a3,3 0 1,0 6,0a3,3 0 1,0 -6,0M1129.8,411.7a3,3 0 1,0 6,0a3,3 0 1,0 -6,0M1127.4,416.9a3,3 0 1,0 6,0a3,3 0 1,0 -6,0M1140.0,429.6a3,3 0 1,0 6,0a3,3 0 1,0 -6,0M1160.4,423.9a3,3 0 1,0 6,0a3,3 0 1,0 -6,0M1167.7,427.1a3,3 0 1,0 6,0a3,3 0 1,0 -6,0M1172.1,421.9a3,3 0 1,0 6,0a3,3 0 1,0 -6,0M1202.7,416.7a3,3 0 1,0 6,0a3,3 0 1,0 -6,0M1222.5,409.8a3,3 0 1,0 6,0a3,3 0 1,0 -6,0M1217.3,443.1a3,3 0 1,0 6,0a3,3 0 1,0 -6,0M1236.9,448.4a3,3 0 1,0 6,0a3,3 0 1,0 -6,0M1245.3,452.5a3,3 0 1,0 6,0a3,3 0 1,0 -6,0M1242.9,457.6a3,3 0 1,0 6,0a3,3 0 1,0 -6,0M1284.2,454.7a3,3 0 1,0 6,0a3,3 0 1,0 -6,0M1160.6,461.0a3,3 0 1,0 6,0a3,3 0 1,0 -6,0M1198.6,468.5a3,3 0 1,0 6,0a3,3 0 1,0 -6,0M1231.7,473.6a3,3 0 1,0 6,0a3,3 0 1,0 -6,0M1212.0,479.4a3,3 0 1,0 6,0a3,3 0 1,0 -6,0M1129.8,479.1a3,3 0 1,0 6,0a3,3 0 1,0 -6,0M1140.0,480.5a3,3 0 1,0 6,0a3,3 0 1,0 -6,0M1150.2,484.6a3,3 0 1,0 6,0a3,3 0 1,0 -6,0M1109.1,493.8a3,3 0 1,0 6,0a3,3 0 1,0 -6,0M1088.5,502.2a3,3 0 1,0 6,0a3,3 0 1,0 -6,0M1150.2,499.8a3,3 0 1,0 6,0a3,3 0 1,0 -6,0M1181.0,492.4a3,3 0 1,0 6,0a3,3 0 1,0 -6,0M1201.9,488.5a3,3 0 1,0 6,0a3,3 0 1,0 -6,0M1201.9,493.8a3,3 0 1,0 6,0a3,3 0 1,0 -6,0M1232.7,493.2a3,3 0 1,0 6,0a3,3 0 1,0 -6,0M1265.8,487.6a3,3 0 1,0 6,0a3,3 0 1,0 -6,0M1205.8,505.8a3,3 0 1,0 6,0a3,3 0 1,0 -6,0M1231.7,508.3a3,3 0 1,0 6,0a3,3 0 1,0 -6,0M1239.9,513.0a3,3 0 1,0 6,0a3,3 0 1,0 -6,0M1254.4,506.7a3,3 0 1,0 6,0a3,3 0 1,0 -6,0M1260.7,507.5a3,3 0 1,0 6,0a3,3 0 1,0 -6,0M1263.8,510.5a3,3 0 1,0 6,0a3,3 0 1,0 -6,0M1301.8,511.4a3,3 0 1,0 6,0a3,3 0 1,0 -6,0M1119.3,514.9a3,3 0 1,0 6,0a3,3 0 1,0 -6,0M1188.4,512.7a3,3 0 1,0 6,0a3,3 0 1,0 -6,0M1191.5,516.3a3,3 0 1,0 6,0a3,3 0 1,0 -6,0M1201.7,521.2a3,3 0 1,0 6,0a3,3 0 1,0 -6,0M1218.2,518.8a3,3 0 1,0 6,0a3,3 0 1,0 -6,0M1150.2,521.8a3,3 0 1,0 6,0a3,3 0 1,0 -6,0M1178.2,524.5a3,3 0 1,0 6,0a3,3 0 1,0 -6,0M1120.4,526.2a3,3 0 1,0 6,0a3,3 0 1,0 -6,0M1293.6,526.5a3,3 0 1,0 6,0a3,3 0 1,0 -6,0M1432.8,415.1a3,3 0 1,0 6,0a3,3 0 1,0 -6,0M1391.5,441.8a3,3 0 1,0 6,0a3,3 0 1,0 -6,0M1412.1,476.1a3,3 0 1,0 6,0a3,3 0 1,0 -6,0M1440.8,487.6a3,3 0 1,0 6,0a3,3 0 1,0 -6,0M1350.4,505.6a3,3 0 1,0 6,0a3,3 0 1,0 -6,0M1392.5,530.6a3,3 0 1,0 6,0a3,3 0 1,0 -6,0M1471.0,400.1a3,3 0 1,0 6,0a3,3 0 1,0 -6,0M1552.5,447.5a3,3 0 1,0 6,0a3,3 0 1,0 -6,0M1540.0,510.5a3,3 0 1,0 6,0a3,3 0 1,0 -6,0M1324.6,554.6a3,3 0 1,0 6,0a3,3 0 1,0 -6,0M1311.4,559.2a3,3 0 1,0 6,0a3,3 0 1,0 -6,0M1314.5,566.7a3,3 0 1,0 6,0a3,3 0 1,0 -6,0M1369.8,555.9a3,3 0 1,0 6,0a3,3 0 1,0 -6,0M1333.9,572.0a3,3 0 1,0 6,0a3,3 0 1,0 -6,0M1328.7,584.1a3,3 0 1,0 6,0a3,3 0 1,0 -6,0M1313.3,591.8a3,3 0 1,0 6,0a3,3 0 1,0 -6,0M1391.5,581.8a3,3 0 1,0 6,0a3,3 0 1,0 -6,0M1424.5,589.3a3,3 0 1,0 6,0a3,3 0 1,0 -6,0M1366.9,596.9a3,3 0 1,0 6,0a3,3 0 1,0 -6,0M1386.3,596.1a3,3 0 1,0 6,0a3,3 0 1,0 -6,0M1396.7,594.0a3,3 0 1,0 6,0a3,3 0 1,0 -6,0M1369.8,615.1a3,3 0 1,0 6,0a3,3 0 1,0 -6,0M1368.0,638.7a3,3 0 1,0 6,0a3,3 0 1,0 -6,0M1400.8,635.4a3,3 0 1,0 6,0a3,3 0 1,0 -6,0M1466.9,561.5a3,3 0 1,0 6,0a3,3 0 1,0 -6,0M1552.5,589.3a3,3 0 1,0 6,0a3,3 0 1,0 -6,0M1537.9,622.9a3,3 0 1,0 6,0a3,3 0 1,0 -6,0M1552.5,622.3a3,3 0 1,0 6,0a3,3 0 1,0 -6,0M1552.5,633.6a3,3 0 1,0 6,0a3,3 0 1,0 -6,0" fill="#000"/>
<rect x="1461.1" y="241.5" width="111.4" height="510.1" fill="#808080" fill-opacity="0.5"/>
<clipPath id="clipB"><rect x="1050.5" y="242.6" width="567.5" height="509"/></clipPath>
<g clip-path="url(#clipB)">
<line x1="1040" y1="664.73" x2="1555.4" y2="476.61" stroke="#E0742A" stroke-width="7.4" stroke-linecap="round"/>
<path d="M1040.0,670.01L1128.0,632.78M1143.2,626.35L1179.4,611.04M1194.6,604.61L1230.8,589.30M1246.0,582.87L1282.2,567.56M1297.4,561.13L1333.6,545.81M1348.8,539.39L1385.0,524.07M1400.2,517.64L1436.4,502.33" stroke="#E0742A" stroke-width="7.1" fill="none"/>
</g>
<defs><pattern id="hatch" patternUnits="userSpaceOnUse" x="1488.75" y="247.9" width="55.2" height="46.0"><path d="M-5.52,-4.60 L60.72,50.60 M60.72,-4.60 L-5.52,50.60" stroke="#000" stroke-opacity="0.115" stroke-width="1.4" fill="none"/></pattern></defs>
<rect x="1464.9" y="243.6" width="104.1" height="508" fill="#808080" fill-opacity="0.5"/>
<rect x="1464.9" y="243.6" width="104.1" height="508" fill="url(#hatch)"/>
<line x1="1050.50" y1="241.53" x2="1050.50" y2="752.68" stroke="#000" stroke-width="2.15" />
<line x1="1049.42" y1="751.60" x2="1618.00" y2="751.60" stroke="#000" stroke-width="2.15" />
<line x1="1050.50" y1="751.60" x2="1050.50" y2="775.80" stroke="#000" stroke-width="2.15" />
<line x1="1256.50" y1="751.60" x2="1256.50" y2="775.80" stroke="#000" stroke-width="2.15" />
<line x1="1462.50" y1="751.60" x2="1462.50" y2="775.80" stroke="#000" stroke-width="2.15" />
<line x1="1025.90" y1="671.40" x2="1050.50" y2="671.40" stroke="#000" stroke-width="2.15" />
<line x1="1025.90" y1="564.20" x2="1050.50" y2="564.20" stroke="#000" stroke-width="2.15" />
<line x1="1025.90" y1="457.00" x2="1050.50" y2="457.00" stroke="#000" stroke-width="2.15" />
<line x1="1025.90" y1="349.80" x2="1050.50" y2="349.80" stroke="#000" stroke-width="2.15" />
<line x1="1025.90" y1="242.60" x2="1050.50" y2="242.60" stroke="#000" stroke-width="2.15" />
</g>
<text transform="translate(1050.50,823.00) scale(1,1.045)" font-size="50" text-anchor="middle" >0.0</text>
<text transform="translate(1256.50,823.00) scale(1,1.045)" font-size="50" text-anchor="middle" >0.2</text>
<text transform="translate(1462.50,823.00) scale(1,1.045)" font-size="50" text-anchor="middle" >0.4</text>
<text transform="translate(1014.40,690.00) scale(1,1.045)" font-size="50" text-anchor="end" >0.6</text>
<text transform="translate(1014.40,582.00) scale(1,1.045)" font-size="50" text-anchor="end" >0.8</text>
<text transform="translate(1014.40,475.00) scale(1,1.045)" font-size="50" text-anchor="end" >1.0</text>
<text transform="translate(1014.40,368.00) scale(1,1.045)" font-size="50" text-anchor="end" >1.2</text>
<text transform="translate(1014.40,261.00) scale(1,1.045)" font-size="50" text-anchor="end" >1.4</text>
<text transform="translate(917.90,597.80) rotate(-90)" x="-3.63" y="0" font-size="44.3" textLength="271.58" lengthAdjust="spacing">Human RT (s)</text>
<text x="1279.55" y="886.00" font-size="42" textLength="131.85" lengthAdjust="spacing">RTified</text>
<text x="1171.12" y="932.00" font-size="42" textLength="374.49" lengthAdjust="spacing">VGG_WW RT (a.u.)</text>
</svg>
</body></html>
